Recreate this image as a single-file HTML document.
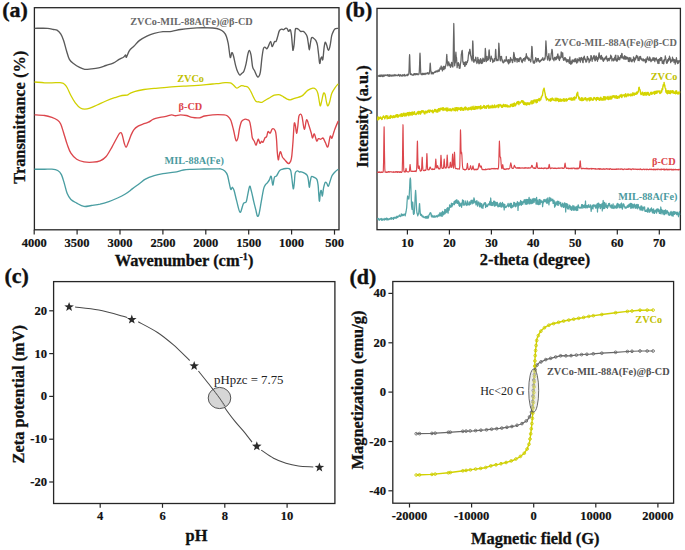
<!DOCTYPE html>
<html><head><meta charset="utf-8"><style>
html,body{margin:0;padding:0;background:#fff;}
svg{display:block;}
text{font-family:"Liberation Serif",serif;}
</style></head><body>
<svg width="685" height="550" viewBox="0 0 685 550">
<rect width="685" height="550" fill="#fff"/>

<g fill="none" stroke="#262626" stroke-width="1.3">
<rect x="34.4" y="7.7" width="304.6" height="222.1"/>
<rect x="377" y="8.4" width="303.4" height="221.3"/>
<rect x="53.6" y="281.6" width="281.3" height="221.9"/>
<rect x="392.8" y="281.5" width="280.8" height="221.7"/>
</g>
<g stroke="#262626" stroke-width="1.2">
<line x1="34.2" y1="229.8" x2="34.2" y2="234.6"/>
<line x1="77.1" y1="229.8" x2="77.1" y2="234.6"/>
<line x1="120.0" y1="229.8" x2="120.0" y2="234.6"/>
<line x1="162.9" y1="229.8" x2="162.9" y2="234.6"/>
<line x1="205.8" y1="229.8" x2="205.8" y2="234.6"/>
<line x1="248.7" y1="229.8" x2="248.7" y2="234.6"/>
<line x1="291.6" y1="229.8" x2="291.6" y2="234.6"/>
<line x1="334.5" y1="229.8" x2="334.5" y2="234.6"/>
<line x1="407.4" y1="229.7" x2="407.4" y2="234.5"/>
<line x1="449.4" y1="229.7" x2="449.4" y2="234.5"/>
<line x1="491.4" y1="229.7" x2="491.4" y2="234.5"/>
<line x1="533.3" y1="229.7" x2="533.3" y2="234.5"/>
<line x1="575.3" y1="229.7" x2="575.3" y2="234.5"/>
<line x1="617.3" y1="229.7" x2="617.3" y2="234.5"/>
<line x1="659.3" y1="229.7" x2="659.3" y2="234.5"/>
<line x1="100.2" y1="503.5" x2="100.2" y2="507.8"/>
<line x1="162.5" y1="503.5" x2="162.5" y2="507.8"/>
<line x1="224.8" y1="503.5" x2="224.8" y2="507.8"/>
<line x1="287.1" y1="503.5" x2="287.1" y2="507.8"/>
<line x1="49.2" y1="310.8" x2="53.6" y2="310.8"/>
<line x1="49.2" y1="353.6" x2="53.6" y2="353.6"/>
<line x1="49.2" y1="396.4" x2="53.6" y2="396.4"/>
<line x1="49.2" y1="439.2" x2="53.6" y2="439.2"/>
<line x1="49.2" y1="482.0" x2="53.6" y2="482.0"/>
<line x1="409.5" y1="503.2" x2="409.5" y2="507.5"/>
<line x1="471.6" y1="503.2" x2="471.6" y2="507.5"/>
<line x1="533.7" y1="503.2" x2="533.7" y2="507.5"/>
<line x1="595.8" y1="503.2" x2="595.8" y2="507.5"/>
<line x1="657.9" y1="503.2" x2="657.9" y2="507.5"/>
<line x1="388.4" y1="293.4" x2="392.8" y2="293.4"/>
<line x1="388.4" y1="342.8" x2="392.8" y2="342.8"/>
<line x1="388.4" y1="392.1" x2="392.8" y2="392.1"/>
<line x1="388.4" y1="441.5" x2="392.8" y2="441.5"/>
<line x1="388.4" y1="490.8" x2="392.8" y2="490.8"/>
</g>
<g font-size="12.5" font-weight="bold" fill="#111" stroke="#111" stroke-width="0.2" text-anchor="middle">
<text x="34.2" y="247">4000</text>
<text x="77.1" y="247">3500</text>
<text x="120.0" y="247">3000</text>
<text x="162.9" y="247">2500</text>
<text x="205.8" y="247">2000</text>
<text x="248.7" y="247">1500</text>
<text x="291.6" y="247">1000</text>
<text x="334.5" y="247">500</text>
<text x="407.4" y="247">10</text>
<text x="449.4" y="247">20</text>
<text x="491.4" y="247">30</text>
<text x="533.3" y="247">40</text>
<text x="575.3" y="247">50</text>
<text x="617.3" y="247">60</text>
<text x="659.3" y="247">70</text>
</g>
<g font-size="12.5" font-weight="bold" fill="#111" stroke="#111" stroke-width="0.2" text-anchor="middle">
<text x="100.2" y="520">4</text>
<text x="162.5" y="520">6</text>
<text x="224.8" y="520">8</text>
<text x="287.1" y="520">10</text>
<text x="409.5" y="519.5">-20000</text>
<text x="471.6" y="519.5">-10000</text>
<text x="533.7" y="519.5">0</text>
<text x="595.8" y="519.5">10000</text>
<text x="657.9" y="519.5">20000</text>
</g>
<g font-size="12.6" font-weight="bold" fill="#111" stroke="#111" stroke-width="0.2" text-anchor="end">
<text x="47" y="314.8">20</text>
<text x="47" y="357.6">10</text>
<text x="47" y="400.4">0</text>
<text x="47" y="443.2">-10</text>
<text x="47" y="486.0">-20</text>
<text x="386" y="297.4">40</text>
<text x="386" y="346.8">20</text>
<text x="386" y="396.1">0</text>
<text x="386" y="445.5">-20</text>
<text x="386" y="494.8">-40</text>
</g>
<g font-size="16.4" font-weight="bold" fill="#111" stroke="#111" stroke-width="0.3" text-anchor="middle">
<text x="184" y="265.5">Wavenumber (cm<tspan font-size="10" dy="-6">-1</tspan><tspan dy="6">)</tspan></text>
<text x="535" y="264.7">2-theta (degree)</text>
<text x="196.5" y="541">pH</text>
<text x="535.3" y="543.5">Magnetic field (G)</text>
<text transform="translate(24.5,117.3) rotate(-90)">Transmittance (%)</text>
<text transform="translate(367.8,116.6) rotate(-90)">Intensity (a.u.)</text>
<text transform="translate(24.1,394.2) rotate(-90)">Zeta potential (mV)</text>
<text transform="translate(363.1,390) rotate(-90)">Magnetization (emu/g)</text>
</g>
<g font-size="22" font-weight="bold" fill="#111" stroke="#111" stroke-width="0.35">
<text x="2.3" y="17.3">(a)</text>
<text x="345.5" y="17">(b)</text>
<text x="4.5" y="283.1">(c)</text>
<text x="349.5" y="284.1">(d)</text>
</g>
<g fill="none" stroke-width="1.35" stroke-linejoin="round">
<path d="M34.5,28.3 C36.7,28.3 44.4,28.1 47.5,28.3 C50.6,28.5 51.8,29.2 53.4,29.5 C55,29.8 55.8,29.5 57,30.2 C58.2,30.9 59.6,32.2 60.7,33.9 C61.8,35.6 62.6,37.6 63.6,40.4 C64.6,43.2 65.5,47.5 66.5,50.7 C67.5,53.9 68.2,57.2 69.4,59.4 C70.6,61.6 72.1,62.5 73.8,63.8 C75.5,65.1 77.8,66.5 79.6,67.4 C81.4,68.3 82.8,69 84.7,69.3 C86.7,69.5 89,69.1 91.3,68.9 C93.6,68.7 96.2,68.5 98.6,67.9 C101,67.3 103.5,66.3 105.9,65.5 C108.3,64.7 111,64.1 113.2,63.1 C115.4,62.1 117.4,60.4 119.1,59.4 C120.8,58.4 122.3,57.9 123.4,57.2 C124.5,56.5 125.1,55 125.6,55 C126.1,55 125.8,57.9 126.4,57.2 C127,56.5 128.2,52.5 129.4,50.7 C130.6,48.9 132.1,48 133.8,46.3 C135.5,44.6 137.4,42.1 139.6,40.4 C141.8,38.7 144.5,37.3 146.9,36.1 C149.3,34.9 151.5,34.1 154.2,33.4 C156.9,32.7 160.1,32 163,31.7 C165.9,31.4 168.8,31.8 171.7,31.4 C174.6,31 177.3,30 180.5,29.5 C183.7,29 187,28.6 190.7,28.3 C194.3,28 198.8,27.7 202.4,27.6 C206.1,27.6 209.8,27.7 212.6,28 C215.4,28.3 217.6,28.6 219.4,29.3 C221.2,30 222.5,30.8 223.7,32 C224.9,33.2 225.7,34.6 226.4,36.4 C227.1,38.2 227.6,40.5 228.1,42.9 C228.6,45.2 228.8,48 229.2,50.5 C229.6,53 229.9,57.2 230.3,57.6 C230.8,58 231.4,53 231.9,52.7 C232.4,52.4 232.9,53.8 233.5,56 C234.1,58.2 235,63.1 235.7,65.8 C236.4,68.5 237.2,70.8 237.9,72.3 C238.6,73.8 239.3,74.9 239.9,75.1 C240.5,75.3 241,74.1 241.7,73.4 C242.4,72.8 243.2,72.8 243.9,71.2 C244.6,69.6 245.5,66.3 246.1,63.6 C246.7,60.9 247.2,57.1 247.7,54.9 C248.2,52.7 248.8,50.5 249.3,50.5 C249.9,50.5 250.4,52.2 251,54.9 C251.6,57.6 252,64.2 252.6,66.9 C253.2,69.6 254.1,69.7 254.8,71.2 C255.5,72.8 256.4,75.3 257,76.2 C257.6,77.1 258.1,77.4 258.6,76.7 C259.2,76 259.8,75.4 260.3,72.3 C260.9,69.2 261.4,62.2 261.9,58.2 C262.4,54.2 262.9,50.2 263.5,48.4 C264.1,46.6 264.6,47.2 265.2,47.3 C265.8,47.4 266.3,49.1 266.8,48.9 C267.3,48.7 267.8,47.5 268.4,46.2 C269,44.9 270,41.2 270.6,41.3 C271.2,41.4 271.6,46.6 272.2,46.7 C272.8,46.8 273.8,42.7 274.4,41.8 C275,40.9 275.6,42.2 276.1,41.3 C276.7,40.4 277.2,38.1 277.7,36.4 C278.2,34.7 278.7,32.1 279.3,30.9 C279.9,29.7 280.8,29.4 281.5,29.2 C282.2,29 283,29.9 283.7,29.7 C284.4,29.5 285.3,28.2 285.9,28.1 C286.5,28 287.1,28.6 287.5,29.2 C287.9,29.8 288.1,31.3 288.6,31.4 C289.1,31.5 289.8,29.2 290.3,29.7 C290.8,30.2 291,32 291.4,34.6 C291.8,37.2 292.1,42.9 292.4,45.5 C292.7,48.1 292.7,50.6 293,50.4 C293.3,50.2 293.7,47.8 294.1,44.4 C294.5,41 294.8,32.9 295.2,30.3 C295.6,27.7 295.8,28.8 296.3,28.6 C296.8,28.4 297.7,28.7 298.4,29.2 C299.1,29.7 299.8,31 300.6,31.4 C301.4,31.8 302.6,31 303.4,31.4 C304.2,31.8 304.9,32.6 305.5,33.5 C306.1,34.4 306.7,35.1 307.2,36.8 C307.7,38.4 307.9,41.2 308.3,43.4 C308.7,45.6 309,49.9 309.3,49.9 C309.6,49.9 310,45.4 310.4,43.4 C310.8,41.4 311,38.8 311.5,37.9 C312,37 312.5,37.4 313.2,37.9 C313.9,38.4 315.2,39.3 315.9,40.6 C316.6,41.9 317.1,43.2 317.5,45.5 C317.9,47.8 318.2,51.3 318.6,54.3 C319,57.3 319.3,62.8 319.7,63.5 C320.1,64.2 320.4,59.7 320.8,58.6 C321.2,57.5 321.6,56.8 321.9,57 C322.2,57.2 322.4,61.2 322.8,59.7 C323.2,58.2 323.7,50.6 324.1,47.7 C324.5,44.8 324.8,42.7 325.2,42.3 C325.6,41.9 326.3,44.1 326.8,45.5 C327.3,46.9 327.8,50.4 328.4,50.4 C328.9,50.4 329.6,48 330.1,45.5 C330.7,43 331.1,38.2 331.7,35.7 C332.3,33.2 333.3,31.5 333.9,30.3 C334.5,29.1 334.8,28.9 335.5,28.6 C336.2,28.3 337.8,28.4 338.3,28.3" stroke="#5a5a5a"/>
<path d="M34.5,82 C36.2,82.1 41.7,82.7 44.6,82.8 C47.5,82.9 49.3,82.8 51.9,82.8 C54.5,82.8 58.2,82.5 60,82.6 C61.8,82.7 62,82.9 62.8,83.2 C63.6,83.5 64.1,83.8 64.8,84.6 C65.5,85.3 66.2,85.9 67.2,87.7 C68.2,89.5 69.6,93 70.9,95.5 C72.2,98 73.7,100.7 75.3,102.8 C76.9,104.9 78.8,107 80.4,108 C82,109 83.1,109.1 84.7,109.1 C86.3,109.1 87.8,108.9 89.9,108.2 C92,107.5 94.5,106.2 97.2,105 C99.9,103.8 103,102.2 105.9,101 C108.8,99.8 112,98.6 114.7,97.7 C117.4,96.8 119.9,95.9 122,95.5 C124.1,95.1 125.8,95.4 127.1,95.1 C128.4,94.8 128.7,94 130,93.4 C131.3,92.8 132.9,92 135.2,91.3 C137.5,90.6 140.8,90 144,89.5 C147.2,89 150.1,88.8 154.2,88.4 C158.3,88 163.9,87.6 168.8,87.2 C173.7,86.8 178.5,86.5 183.4,86.2 C188.3,85.9 193.1,85.8 198,85.4 C202.9,85 208.9,84.3 212.6,84 C216.3,83.7 218,83.6 220.1,83.4 C222.2,83.2 223.5,82.7 225.2,82.6 C226.9,82.5 228.9,82.5 230.3,82.9 C231.7,83.3 232.4,84.1 233.4,84.9 C234.4,85.8 235.6,87.7 236.5,88 C237.4,88.3 238.2,87.4 239,87 C239.8,86.6 240.7,85.7 241.6,85.6 C242.5,85.5 243.6,86.1 244.6,86.3 C245.6,86.5 246.8,86.3 247.7,87 C248.6,87.7 249.5,89 250.3,90.5 C251.2,92 251.9,93.9 252.8,95.7 C253.7,97.5 254.9,100.3 255.9,101.3 C256.9,102.3 257.9,101.6 258.9,101.8 C259.9,102 260.8,102.6 262,102.3 C263.2,102 264.7,100.5 266.1,99.7 C267.5,98.9 268.8,98.3 270.2,97.5 C271.6,96.7 272.9,95.6 274.3,95.1 C275.7,94.6 277.4,94.6 278.4,94.6 C279.4,94.6 279.6,94.8 280.4,95.1 C281.2,95.4 282,95.9 283.2,96.6 C284.4,97.3 286.1,98.5 287.3,99.1 C288.5,99.6 289,100.1 290.3,99.9 C291.6,99.7 293.5,98.7 295.4,98.1 C297.3,97.5 300.1,96.9 301.6,96.1 C303.1,95.3 303.6,94.5 304.6,93.5 C305.6,92.5 306.3,91.3 307.7,90.4 C309.1,89.5 311.4,88.4 312.8,88.2 C314.2,88 315,88.5 315.9,89.4 C316.8,90.3 317.3,91.3 317.9,93.5 C318.5,95.7 319.1,100.7 319.5,102.7 C319.9,104.8 320.1,106.3 320.5,105.8 C320.9,105.3 321.5,101.7 322,99.6 C322.5,97.5 323,94.1 323.5,93.3 C324,92.5 324.6,92.9 325.1,94.5 C325.6,96.1 326.1,100.8 326.6,102.7 C327.1,104.6 327.4,106 327.9,105.8 C328.4,105.6 329.1,103.8 329.7,101.7 C330.3,99.7 330.8,95.9 331.7,93.5 C332.6,91.1 334.2,89 335.3,87.4 C336.4,85.8 337.8,84.4 338.3,83.8" stroke="#d0d000" stroke-width="1.3"/>
<path d="M34.5,114.8 C36.2,114.9 41.7,115.1 44.6,115.5 C47.5,115.9 49.7,116.6 51.9,117.4 C54.1,118.2 56.2,119.2 57.7,120.3 C59.2,121.4 59.7,121.9 60.7,124 C61.7,126.1 62.5,129.3 63.6,132.7 C64.7,136.1 66,141 67.2,144.4 C68.4,147.8 69.3,150.7 70.9,153.2 C72.5,155.7 74.5,157.9 76.7,159.3 C78.9,160.8 81.3,161.4 84,161.9 C86.7,162.4 90.1,162.4 92.8,162.2 C95.5,162 97.9,161.7 100.1,160.8 C102.3,159.9 104,159.1 105.9,156.8 C107.9,154.6 110,150.5 111.8,147.3 C113.6,144.1 115.6,140.2 116.9,137.8 C118.2,135.4 119,133.6 119.8,133 C120.6,132.4 121.3,132.5 122,134.2 C122.7,135.9 123.5,140.8 124.2,143 C124.9,145.2 125.4,147.3 126.1,147.3 C126.8,147.3 127.3,144.9 128.1,143 C128.9,141.1 129.9,137.9 130.8,135.7 C131.8,133.5 132.6,131.4 133.8,129.8 C135,128.2 136.4,127.2 138.1,126.2 C139.8,125.2 142.3,124.4 144,123.7 C145.7,123 146.8,123 148.4,122.2 C150,121.5 151.6,120 153.5,119.2 C155.4,118.4 157.9,117.9 160,117.4 C162.1,116.9 164,116.8 165.9,116.4 C167.8,116 170.1,115 171.7,114.9 C173.3,114.8 173.9,115.7 175.4,115.7 C176.9,115.7 178.7,114.8 180.5,114.8 C182.3,114.8 184.4,115.1 186.3,115.5 C188.2,115.9 190,117 192.2,117.4 C194.4,117.8 197.4,118 199.5,117.8 C201.6,117.6 202.4,116.5 204.6,116 C206.8,115.5 209.3,115 212.6,114.8 C215.9,114.6 221.7,114.7 224.2,114.9 C226.7,115.1 226.7,115.3 227.8,116.2 C228.9,117.1 229.9,118.1 230.8,120.3 C231.7,122.5 232.6,126.4 233.4,129.5 C234.2,132.6 234.9,136.8 235.4,138.7 C235.9,140.6 236.3,141 236.7,140.8 C237.1,140.6 237.5,139.8 238,137.7 C238.5,135.6 238.9,131.2 239.5,128.5 C240.1,125.8 240.8,122.9 241.6,121.4 C242.4,119.9 243.6,119.6 244.6,119.3 C245.6,119 246.8,119.4 247.7,119.8 C248.5,120.2 249.1,120.1 249.7,121.9 C250.3,123.7 250.9,127.9 251.3,130.5 C251.7,133.1 251.8,135.9 252.3,137.7 C252.8,139.5 253.7,140.1 254.3,141.3 C254.9,142.5 255.4,144.9 255.9,145.1 C256.4,145.3 256.7,143.3 257.1,142.3 C257.5,141.3 257.9,139 258.4,139.2 C258.9,139.4 259.5,143 260,143.3 C260.5,143.7 261,141.5 261.5,141.3 C262,141.1 262.4,142.9 263,142.3 C263.6,141.7 264.5,138.6 265.1,137.7 C265.7,136.8 266.1,137.7 266.6,136.7 C267.1,135.7 267.5,132.2 268.1,131.6 C268.7,131 269.5,133.6 270.2,133.1 C270.9,132.6 271.5,129.2 272.4,128.8 C273.2,128.5 274.6,129.2 275.3,131 C276,132.8 276.2,135.8 276.5,139.3 C276.8,142.8 277,148.8 277.3,152.2 C277.6,155.6 278,159.5 278.3,159.9 C278.6,160.3 279,156 279.4,154.6 C279.8,153.2 280.1,151.3 280.6,151.7 C281.1,152.1 281.7,155.6 282.4,157 C283.1,158.4 283.8,158.8 284.8,159.9 C285.8,161 287.3,163.3 288.3,163.5 C289.3,163.7 290.1,162.4 290.7,161.1 C291.3,159.8 291.4,159.1 291.8,155.8 C292.2,152.6 292.6,146.9 293,141.6 C293.4,136.3 293.8,126.6 294.2,123.9 C294.6,121.2 295,124.1 295.4,125.7 C295.8,127.3 296.2,133.2 296.6,133.3 C297,133.4 297.4,129.2 297.8,126.3 C298.2,123.4 298.4,118.2 298.9,116.2 C299.4,114.2 300.2,114.1 300.7,114.2 C301.2,114.3 301.5,114.3 302.1,116.8 C302.7,119.3 303.6,128.7 304.3,129.2 C305.1,129.7 305.8,120.4 306.6,119.8 C307.4,119.2 308.2,123.5 309,125.7 C309.8,128 310.7,131.2 311.3,133.3 C311.9,135.4 312,138 312.5,138.1 C313,138.2 313.6,133.4 314.3,133.9 C315,134.4 316,140.2 316.7,141 C317.4,141.8 317.7,139 318.4,138.7 C319.1,138.4 320,139.4 320.8,139.3 C321.6,139.2 322.3,137.5 323.1,138.1 C323.9,138.7 324.7,141.3 325.5,142.8 C326.3,144.3 327.1,148 327.9,146.9 C328.7,145.8 329.5,137.8 330.2,136.3 C330.9,134.8 331.3,139.1 332,138.1 C332.7,137.1 333.3,133.3 334.4,130.4 C335.4,127.5 337.6,122.5 338.3,120.9" stroke="#dc464c"/>
<path d="M34.5,169.2 C36.2,169.2 41.7,169.2 44.6,169.2 C47.5,169.2 49.7,169 51.9,169.2 C54.1,169.4 56.1,169.6 57.7,170.5 C59.3,171.4 60.3,172.4 61.4,174.6 C62.5,176.8 63.3,180.2 64.3,183.4 C65.3,186.6 66.1,190.9 67.2,193.6 C68.3,196.3 69.3,197.8 70.9,199.4 C72.5,201 74.5,201.9 76.7,203.1 C78.9,204.3 81.6,206 84,206.4 C86.4,206.8 88.6,205.9 91.3,205.5 C94,205.1 97.2,204.8 100.1,204.2 C103,203.5 105.9,202.6 108.8,201.6 C111.7,200.6 114.9,199.2 117.6,198 C120.3,196.8 122.5,195.8 124.9,194.3 C127.4,192.8 129.9,190.7 132.3,188.9 C134.8,187.1 137.4,185.1 139.6,183.5 C141.8,181.9 143,180.4 145.4,179.1 C147.8,177.8 151.3,176.6 154.2,175.7 C157.1,174.8 159.6,174.3 163,173.7 C166.4,173.1 171.2,172.8 174.6,172.2 C178,171.6 180.5,170.5 183.4,170 C186.3,169.5 188.8,169.5 192.2,169.3 C195.6,169.1 199.7,169.1 203.8,169 C207.9,168.9 214.2,168.9 217,168.9 C219.8,168.9 219.2,168.6 220.5,168.9 C221.8,169.2 223.6,169.8 224.8,170.9 C226,172 226.8,173.3 227.5,175.3 C228.2,177.3 228.6,180.6 229.2,182.9 C229.8,185.2 230.3,188.7 230.8,189.4 C231.3,190.1 231.9,187.1 232.4,187.3 C232.9,187.5 233.4,188.2 234.1,190.5 C234.8,192.8 235.8,197.8 236.8,201.4 C237.8,205 239,211.9 240.1,212.3 C241.2,212.7 242.4,205.3 243.4,203.6 C244.4,201.9 245.4,203.4 246.1,202 C246.8,200.6 247.1,197.5 247.7,194.9 C248.3,192.3 249.1,186.8 249.7,186.2 C250.3,185.6 250.8,189.1 251.5,191.6 C252.2,194.1 253,198.3 253.7,201.4 C254.4,204.5 255.3,207.7 255.9,210.2 C256.5,212.7 256.9,215.7 257.5,216.2 C258.1,216.7 258.6,215.9 259.2,213.4 C259.8,210.9 260.6,205.4 261.3,201.4 C262,197.4 262.9,192.1 263.5,189.4 C264.1,186.7 264.6,186.2 265.2,185.1 C265.8,184 266.6,183.8 267.3,182.9 C268,182 268.9,180.7 269.5,179.6 C270.1,178.5 270.6,175.5 271.2,176.4 C271.8,177.3 272.3,184.9 272.8,185.1 C273.3,185.3 273.8,178.9 274.4,177.4 C275,175.9 275.8,176.9 276.6,175.8 C277.4,174.7 278.5,172 279.4,170.9 C280.3,169.8 281,169.7 282.1,169.3 C283.2,168.9 284.7,168.6 285.9,168.5 C287.1,168.4 288.4,168.3 289.2,168.7 C290,169.1 290.4,169.3 290.8,170.9 C291.2,172.5 291.5,175.5 291.9,178.5 C292.3,181.5 292.9,188.3 293.3,188.9 C293.7,189.5 294.1,184.4 294.4,181.8 C294.7,179.2 294.7,174.9 295.2,173.1 C295.7,171.3 296.7,171.1 297.4,170.9 C298.1,170.7 298.9,171.8 299.5,172 C300.1,172.2 300.4,171.6 301.2,171.8 C302,172 303.4,172.5 304.4,173.1 C305.4,173.7 306.5,174.2 307.2,175.3 C307.9,176.4 307.9,177.6 308.3,179.6 C308.7,181.6 309,187.1 309.3,187.3 C309.6,187.5 310,182.5 310.4,180.7 C310.8,178.9 310.9,176.9 311.5,176.4 C312.1,175.9 313.4,176.9 314.3,177.4 C315.2,177.9 316.4,178.3 317,179.6 C317.6,180.9 317.8,182.5 318.1,185.1 C318.4,187.7 318.6,192.2 318.8,194.9 C319,197.6 319.2,201.6 319.5,201.2 C319.8,200.8 320,194.5 320.3,192.7 C320.6,190.9 321,189.9 321.3,190.5 C321.6,191.1 322,196.3 322.4,196 C322.8,195.7 323,190.7 323.5,188.4 C324,186.1 324.6,183.2 325.2,182.4 C325.8,181.6 326.3,182.8 326.8,183.4 C327.3,184 327.8,186.5 328.4,186.2 C328.9,185.8 329.5,183.1 330.1,181.3 C330.7,179.5 331.3,177 332.2,175.3 C333.1,173.7 334.5,172.4 335.5,171.4 C336.5,170.4 337.8,169.7 338.3,169.3" stroke="#4a9ea2"/>
</g>
<g font-size="10.25" font-weight="bold">
<text x="130.2" y="24.7" fill="#686868">ZVCo-MIL-88A(Fe)@β-CD</text>
<text x="177.2" y="81.8" fill="#c0c000">ZVCo</text>
<text x="178.6" y="110.3" fill="#dc464c">β-CD</text>
<text x="164.6" y="164.3" fill="#4a9a9e">MIL-88A(Fe)</text>
</g>
<g fill="none" stroke-width="1.0" stroke-linejoin="round">
<polyline points="377.3,75.3 377.6,76.6 377.9,76.4 378.2,75.5 378.5,75.9 378.8,75.8 379.1,76.2 379.4,76.4 379.7,75.2 380,75 380.3,76.5 380.6,75.7 380.9,76.3 381.2,74.9 381.5,75.7 381.8,76.2 382.1,75.3 382.4,76.6 382.7,76.5 383,74.9 383.3,74.9 383.6,75.8 383.9,76.5 384.2,75.4 384.5,75.1 384.8,75.5 385.1,74.8 385.4,75.1 385.7,75.5 386,75.6 386.3,75.1 386.6,75.1 386.9,75 387.2,75.4 387.5,75.1 387.8,74.6 388.1,76.1 388.4,75.6 388.7,75.7 389,74.9 389.3,76.3 389.6,76 389.9,74.7 390.2,75.1 390.5,75.8 390.8,75.8 391.1,76.2 391.4,75.2 391.7,76 392,75.7 392.3,75 392.6,75.5 392.9,76 393.2,76 393.5,75.4 393.8,75.5 394.1,74.5 394.4,74.9 394.7,75.9 395,75.2 395.3,74.7 395.6,75.4 395.9,75.7 396.2,75.6 396.5,75.1 396.8,75.2 397.1,75.3 397.4,75.8 397.7,75.3 398,75.1 398.3,75.3 398.6,74.4 398.9,74.5 399.2,75.6 399.5,76.1 399.8,75.4 400.1,75.1 400.4,74.7 400.7,75.3 401,76.1 401.3,75.7 401.6,75.3 401.9,75.9 402.2,74.7 402.5,75.2 402.8,76 403.1,75.4 403.4,75.1 403.7,74.8 404,75.3 404.3,76 404.6,74.3 404.9,75.7 405.2,75.7 405.5,75.8 405.8,75.5 406.1,75.6 406.4,75.1 406.7,75.1 407,74.8 407.3,74.2 407.6,75.6 407.9,75 408.2,74.3 408.5,74.8 408.8,74 409.1,68.7 409.4,58 409.6,54.7 409.7,55.7 410,65.9 410.3,73.1 410.6,74.5 410.9,73.8 411.2,74.2 411.5,74 411.8,74.7 412.1,75.2 412.4,75.1 412.7,75.1 413,75.1 413.3,74.1 413.6,75.1 413.9,74.8 414.2,73.7 414.5,73.6 414.8,73.6 415.1,74.9 415.4,74 415.7,73.7 416,74.7 416.3,74.1 416.6,73.6 416.9,73.8 417.2,74.5 417.5,73.8 417.8,74 418.1,74.8 418.4,74.3 418.7,74 419,74.2 419.3,71.6 419.6,64.6 419.9,54.1 420,53.2 420.2,56.4 420.5,67.5 420.8,74.1 421.1,74.3 421.4,73.8 421.7,74.5 422,74.8 422.3,73.3 422.6,73.3 422.9,73.5 423.2,74.5 423.5,73.4 423.8,74.3 424.1,74.2 424.4,74 424.7,73.3 425,74.6 425.3,74.3 425.6,73.7 425.9,73.1 426.2,73.9 426.5,73.4 426.8,73.7 427.1,73.2 427.4,73.7 427.7,72.7 428,73.1 428.3,74.2 428.6,74 428.9,73 429.2,73.9 429.5,72 429.8,69.5 430.1,64.1 430.2,63.2 430.4,64.8 430.7,69.8 431,71.8 431.3,73.8 431.6,72.2 431.9,73.6 432.2,73.8 432.5,73.1 432.8,72.4 433.1,73.6 433.4,73.8 433.7,73.1 434,72.7 434.3,72.3 434.6,72.1 434.9,71.7 435.2,72.4 435.5,71.9 435.8,71.3 436.1,71 436.4,71.9 436.7,71.1 437,71.3 437.3,70.9 437.6,71.8 437.9,71.7 438.2,70 438.5,70.1 438.8,70.2 439.1,71.3 439.4,70.7 439.7,69.6 440,68 440.3,69.2 440.6,69 440.9,68.8 441,66.7 441.2,66 441.5,69.1 441.8,68.9 442.1,68.4 442.4,70.9 442.7,67.4 443,69.5 443.3,66.3 443.6,66.5 443.9,69.7 444.2,66.3 444.5,68.6 444.8,67.7 445.1,68.6 445.4,66.3 445.7,65.9 446,64.3 446.3,63.1 446.6,56.4 446.8,54.4 446.9,56.9 447.2,61 447.5,62.2 447.8,65.8 448.1,63.6 448.4,62.6 448.7,61.8 449,64.9 449.2,63.2 449.3,64.6 449.6,65.5 449.9,64.3 450.2,66.3 450.5,67.3 450.8,65.2 451.1,65.5 451.4,63.3 451.7,62.3 451.7,64.2 452,63.2 452.3,66.6 452.6,65.7 452.9,67 453.2,58.7 453.5,38.8 453.8,23.5 454.1,37.5 454.4,59.6 454.7,65.8 455,62 455.3,62.9 455.6,55.9 455.9,52.2 456,53.7 456.2,56.8 456.5,57.6 456.8,62.4 457.1,67.6 457.4,65.4 457.7,63.9 458,63.3 458.3,62.6 458.4,63.7 458.6,65.4 458.9,63.8 459.2,68.2 459.5,65.9 459.8,68.4 460.1,67.8 460.4,64.2 460.7,62.4 461,60.5 461.3,54.7 461.6,53.5 461.9,51.2 462.2,50.4 462.5,53.8 462.8,62 463.1,61.5 463.4,64.3 463.7,64.2 464,63.6 464.3,62.4 464.6,66.2 464.9,66.3 465.2,66.1 465.5,61.8 465.8,61.9 466.1,63.3 466.4,64.6 466.7,62.2 466.9,61.9 467,62.7 467.3,62.6 467.6,60.5 467.9,60.8 468.2,57.5 468.5,54.5 468.6,55 468.8,52.2 469.1,52.1 469.4,53.7 469.7,49.5 469.9,49.3 470,50.1 470.3,51.6 470.6,55.7 470.9,56 471.2,57.9 471.5,59.4 471.8,59.9 472.1,61 472.4,53.9 472.7,41.1 472.8,41 473,44 473.3,55.9 473.6,61.3 473.9,62.3 474.2,60.8 474.5,59.8 474.8,60.8 475.1,59.5 475.4,60.4 475.7,57.1 475.8,59.1 476,57.9 476.3,61.9 476.6,61.1 476.9,63.5 477.2,61.6 477.5,61.8 477.8,59 477.8,57.4 478.1,60 478.4,62.8 478.7,59.8 479,63.8 479.3,60.2 479.6,62.8 479.9,63.1 480.2,61.1 480.4,59.3 480.5,58.7 480.8,59 481.1,61.6 481.4,63.5 481.7,60.6 482,63.3 482.3,59.6 482.6,62.8 482.9,58.1 483.2,58.8 483.5,61 483.8,59.1 483.8,60.5 484.1,61.2 484.4,61.4 484.7,60.7 485,56.5 485.3,48.4 485.4,49.3 485.6,51.3 485.9,56.5 486.2,61.7 486.5,61.2 486.8,58.2 487.1,56.4 487.3,58.1 487.4,60.3 487.7,60.2 488,59.9 488.3,59.9 488.6,58.5 488.9,51.4 489.1,50 489.2,49.9 489.5,54.5 489.8,58.3 490.1,58.5 490.4,61.3 490.7,59.5 491,59.1 491.3,56.1 491.3,58.1 491.6,58 491.9,58.2 492.2,58.9 492.5,59.8 492.8,62.5 493.1,60.5 493.4,60.5 493.7,61.5 494,59.8 494.3,58.7 494.6,61.1 494.9,60.5 495.2,58.3 495.5,51.1 495.7,49.3 495.8,50.7 496.1,56.7 496.4,58.6 496.7,60.7 497,60.7 497.3,59.5 497.6,60.3 497.9,60.7 498.2,60.1 498.5,53.6 498.8,43.2 498.9,43.5 499.1,46.7 499.4,52.1 499.7,57 500,59.7 500.3,60.9 500.6,56.7 500.9,58.6 501.2,58.8 501.3,57 501.5,56.4 501.8,59.1 502.1,61 502.4,59.8 502.7,62 503,62.6 503.3,62 503.6,62.8 503.9,62.2 504.2,62.1 504.2,60 504.5,60.8 504.8,59.9 505.1,60.9 505.4,60.6 505.7,61.3 506,60.9 506.3,56.5 506.4,58.4 506.6,59.4 506.9,60.6 507.2,60.1 507.5,61.6 507.8,60.3 508.1,62.9 508.4,59.7 508.7,63.9 509,63 509.3,61.9 509.6,59.9 509.9,62.3 510.2,61.9 510.5,57.5 510.8,60 511,58.6 511.1,60.2 511.4,59.6 511.7,60.3 512,59.6 512.3,62.2 512.6,62.7 512.9,59.8 513.2,60.4 513.5,56 513.8,52.4 513.9,53.7 514.1,53.6 514.4,55.4 514.7,61.1 515,61.7 515.3,57.5 515.5,59.1 515.6,59.6 515.9,59.3 516.2,58.6 516.5,59.8 516.8,59.7 517.1,62.1 517.4,58.7 517.7,59.6 518,60.7 518.3,58.8 518.6,61.4 518.9,61 519.2,61.6 519.5,58.1 519.8,58 520.1,58.8 520.3,58.5 520.4,57.5 520.7,59.2 521,58.1 521.3,60.6 521.6,61.5 521.9,61.8 522.2,62.6 522.5,60.3 522.8,59.6 523.1,60.7 523.4,60 523.4,58.7 523.7,59.1 524,58.6 524.3,58.5 524.6,58 524.9,61.2 525.2,57.7 525.5,59.4 525.8,56.4 526.1,56.3 526.3,53.7 526.4,55 526.7,57.7 527,56 527.3,58.6 527.6,58.5 527.8,58 527.9,57.3 528.2,59.3 528.5,59.5 528.8,60.5 529.1,58.1 529.4,60.2 529.7,60.2 530,59.6 530.3,60.1 530.6,61.9 530.9,61.2 531.2,58.6 531.5,53.8 531.8,46.4 531.9,46.4 532.1,47.2 532.4,53.3 532.7,58.8 533,61.3 533.3,62.8 533.6,62.6 533.9,61.2 534.2,63.4 534.5,61.1 534.8,62.7 535.1,59.9 535.4,59.7 535.7,57.7 535.7,59.9 536,58.2 536.3,59.2 536.6,61.8 536.9,61.4 537.2,60.5 537.5,58.7 537.8,60.2 538.1,59.4 538.4,58.5 538.4,59 538.7,61.2 539,60.7 539.3,61.6 539.6,62.2 539.9,61.5 540.2,60.2 540.5,61.3 540.8,60.7 541.1,60.6 541.4,60.4 541.7,59.1 542,59.6 542.3,58.9 542.6,59.8 542.8,57.6 542.9,58.9 543.2,59.5 543.5,59.7 543.8,60.4 544.1,59.7 544.4,58.6 544.7,58 545,59.1 545.3,56.5 545.6,48.4 545.9,40.9 546,42 546.2,45.3 546.5,50.4 546.8,56 547.1,56.3 547.4,59 547.7,60.1 548,58.1 548.3,56.4 548.6,56.2 548.7,55.3 548.9,53.6 549.2,57.6 549.5,60.7 549.8,59.8 550.1,58.6 550.4,59.8 550.7,59.1 551,55.9 551.3,53.1 551.6,52.7 551.9,49.3 552.2,50 552.5,52.7 552.8,59.2 553.1,59.2 553.4,59 553.7,59.8 554,60.8 554.3,57.7 554.6,58.9 554.9,58.3 555,57.2 555.2,59 555.5,57.6 555.8,59.9 556.1,58.2 556.4,59.3 556.7,56.7 557,58.5 557.3,57.7 557.6,54.4 557.8,55 557.9,53.8 558.2,57.7 558.5,57.4 558.8,59.1 559.1,56.1 559.4,60.5 559.7,59.4 560,57.8 560.3,57.8 560.6,58 560.9,56.2 561.2,51.9 561.4,53 561.5,53.7 561.8,52.8 562.1,57.3 562.4,53.5 562.7,52.8 563,57.1 563.3,59.5 563.6,60.3 563.9,59 564.2,60.2 564.5,58.2 564.8,57.6 565.1,59.7 565.4,58.5 565.4,57.9 565.7,60.2 566,58.7 566.3,61.6 566.6,62 566.9,60.3 567.2,59.6 567.5,61 567.8,61.6 568.1,59.9 568.4,60.4 568.7,59.9 569,62.5 569.3,63.4 569.6,58.9 569.9,56.9 569.9,59 570.2,60.9 570.5,63 570.8,64.3 571.1,62.7 571.4,61.4 571.7,63.6 572,60.2 572.3,62.8 572.6,60 572.9,61.3 573.2,61.7 573.5,61.1 573.8,59.9 574.1,59.9 574.4,61.8 574.7,59.2 574.9,59.1 575,59.5 575.3,58.5 575.6,61.5 575.9,60.1 576.2,61.4 576.5,62.8 576.8,63.1 577.1,58.6 577.4,62 577.7,62.2 578,59.6 578.3,59.7 578.6,60 578.9,60.6 579.2,57.7 579.2,58.2 579.5,60.4 579.8,60.8 580.1,58.7 580.4,62.2 580.7,57.8 581,57.9 581.3,60 581.4,59.2 581.6,57.3 581.9,59.2 582.2,58.6 582.5,60.6 582.8,62.5 583.1,62.7 583.4,58.1 583.7,57.2 584,59.8 584.2,58.1 584.3,56.1 584.6,58.1 584.9,58.6 585.2,59.2 585.5,59.1 585.8,61.9 586.1,62.2 586.4,61.5 586.7,61.3 587,59.1 587.3,56.5 587.5,56.6 587.6,57.2 587.9,59.6 588.2,59.4 588.5,58.7 588.8,58.4 589.1,62.6 589.4,61 589.7,59.9 590,61 590.3,60.6 590.6,59.6 590.9,55.7 591.2,55.6 591.3,56.3 591.5,56.6 591.8,57.3 592.1,61.3 592.4,59 592.7,59.3 593,58.5 593.3,57.7 593.6,57 593.7,55.9 593.9,57.2 594.2,55.5 594.5,59.8 594.8,56.8 595.1,60.9 595.4,60.6 595.7,60.3 596,56.1 596.3,56 596.5,57.8 596.6,59.3 596.9,58 597.2,58 597.5,61.3 597.8,57.3 598.1,59.6 598.4,58.8 598.7,55.4 599,53.4 599.2,52.8 599.3,54 599.6,57.5 599.9,55.9 600.2,58.6 600.5,56.3 600.8,59.2 601.1,55.6 601.3,57.5 601.4,55.4 601.7,57.2 602,59.2 602.3,57.8 602.6,57.4 602.9,60.7 603.2,60.9 603.5,61.3 603.8,58.8 604.1,59.3 604.4,58.5 604.7,59.8 605,58.3 605.3,57.4 605.6,58.4 605.9,58.6 605.9,56.5 606.2,57.3 606.5,56 606.8,59.4 607.1,58.7 607.4,61.1 607.7,59.6 608,59.9 608.2,58.3 608.3,59.2 608.6,58.6 608.9,60.6 609.2,60.7 609.5,58.5 609.8,58 610.1,58.8 610.4,58.5 610.7,55.1 611,56.3 611,55.6 611.3,57.6 611.6,56.6 611.9,60.9 612.2,60.4 612.5,58.9 612.8,58.8 613.1,59 613.4,58.9 613.7,60.8 614,59.6 614.3,59.6 614.6,57.3 614.9,59.8 615.2,55.8 615.4,56.2 615.5,55.4 615.8,55.1 616.1,60.5 616.4,58.9 616.7,61.2 617,61.2 617.3,61 617.6,58.7 617.9,57.6 618,55.5 618.2,58.4 618.5,59.6 618.8,57.1 619.1,58.8 619.4,58.6 619.7,59.8 620,58.1 620.3,57.1 620.6,57 620.6,55.9 620.9,55.3 621.2,57.9 621.5,55.7 621.8,53.4 622,53.7 622.1,53.8 622.4,58 622.7,57.9 623,57 623.3,56.9 623.6,58.9 623.9,57.9 624.2,59.1 624.5,57.1 624.5,55.7 624.8,56.9 625.1,58.8 625.4,56.3 625.7,57 626,59.4 626.3,58.1 626.6,57 626.9,57.2 627.1,58.2 627.2,58.8 627.5,58.9 627.8,57.4 628.1,57.7 628.4,61.4 628.7,60.5 629,58.4 629.3,61.6 629.6,57.6 629.9,58.7 630.2,60.2 630.4,58.3 630.5,59.3 630.8,57.9 631.1,61.4 631.4,60.4 631.7,61.7 632,61.8 632.3,59.6 632.6,60.7 632.9,59.6 633.2,60 633.5,58.2 633.5,56.8 633.8,58.6 634.1,60.5 634.4,62 634.7,58.6 635,58 635.3,59.9 635.6,59.3 635.9,57.2 636.2,56.3 636.5,55.4 636.6,55.8 636.8,57.7 637.1,57.8 637.4,57.7 637.7,56.1 638,60.5 638.3,59.2 638.6,58.3 638.9,58.9 639.2,60.6 639.5,57 639.8,56.7 640.1,56.5 640.4,58.4 640.6,56.5 640.7,57.7 641,59.4 641.3,58.5 641.6,59.6 641.9,60.1 642.2,60.2 642.5,60.1 642.8,60.5 643,58.7 643.1,60.9 643.4,59.2 643.7,60.9 644,59.5 644.3,59.5 644.6,60.5 644.9,60.9 645.2,60.7 645.5,62.7 645.8,58.8 646.1,60.7 646.4,62 646.7,60.1 647,58.6 647.3,57 647.6,56.8 647.7,57.2 647.9,59.3 648.2,59.5 648.5,59 648.8,60.5 649.1,60.5 649.4,59.6 649.7,57 649.8,57.6 650,57.7 650.3,60.1 650.6,59.2 650.9,61.7 651.2,60.8 651.5,60.3 651.8,60.8 652.1,59.1 652.4,60 652.7,60 653,57.7 653.3,57.9 653.6,57.9 653.9,60.4 654,58.7 654.2,59.2 654.5,58 654.8,61.6 655.1,58.3 655.4,59.2 655.7,59.8 656,59.1 656.2,58.2 656.3,57.9 656.6,59.9 656.9,59.3 657.2,61.2 657.5,60.7 657.8,63.3 658.1,62.3 658.4,59.5 658.7,59.7 659,63.5 659.3,60 659.6,58.7 659.9,59.2 660.2,59.3 660.5,60.6 660.8,57.4 660.9,57.8 661.1,59 661.4,60.2 661.7,57.7 662,61 662.3,63.4 662.6,61.7 662.9,61.7 663.2,60.9 663.5,63.7 663.8,63.8 664.1,59.7 664.4,61.2 664.7,59.5 665,59.1 665.3,55.8 665.3,57.5 665.6,57.2 665.9,58.8 666.2,60.9 666.5,63 666.8,63.4 667.1,63.1 667.4,62.5 667.7,59.6 668,60.5 668.3,61.1 668.6,58.4 668.9,58.5 669.2,59.7 669.4,57.8 669.5,56.1 669.8,60 670.1,57.5 670.4,59.7 670.7,62.7 671,59.8 671.3,61 671.6,60 671.9,61.3 672.2,61 672.5,57.2 672.6,58.2 672.8,58.3 673.1,60.7 673.4,60 673.7,59.3 674,62.5 674.3,61 674.6,61.9 674.9,59.7 675.2,64.1 675.5,62 675.8,62.2 676.1,61.3 676.3,58.8 676.4,57.7 676.7,59.7 677,60.5 677.3,62.8 677.6,63.6 677.9,60.9 678.2,61.1 678.5,63.1 678.8,61.8 679.1,60.5 679.4,60.8 679.7,62.5" stroke="#666" stroke-width="1.25"/>
<polyline points="377.3,120.1 377.6,120 377.9,116.9 378.2,117 378.5,119.5 378.8,119.1 379.1,118.8 379.4,117.5 379.7,118.5 380,118.5 380.3,118.3 380.6,116.9 380.9,117.7 381.2,117.6 381.5,118.7 381.8,119.5 382.1,119.3 382.4,117.9 382.7,117.5 383,116.9 383.3,116.1 383.6,116 383.9,117.4 384.2,116.9 384.5,117.1 384.8,118.8 385.1,117.5 385.4,117.5 385.7,116.4 386,115.6 386.3,116.6 386.6,115.9 386.9,117.2 387.2,118.8 387.5,117.6 387.8,115.9 388.1,118.3 388.4,117.9 388.7,117.7 389,118.2 389.3,117.7 389.6,117.7 389.9,116.2 390.2,118.3 390.5,118.2 390.8,115.4 391.1,117.4 391.4,117.2 391.7,116.3 392,116.5 392.3,116.3 392.6,117.8 392.9,116.3 393.2,117.4 393.5,115.7 393.8,117.4 394.1,117.5 394.4,115.9 394.7,116.2 395,117.4 395.3,116.7 395.6,115.8 395.9,114.9 396.2,115.2 396.5,116.4 396.8,114.6 397.1,117.1 397.4,114.8 397.7,117 398,114.9 398.3,117.1 398.6,116.2 398.9,115.4 399.2,115.4 399.5,115.9 399.8,115.6 400.1,114.6 400.4,114.2 400.7,115.2 401,116.6 401.3,115.5 401.6,113.6 401.9,116.1 402.2,115.8 402.5,116.3 402.8,113.9 403.1,115.7 403.4,113.3 403.7,115.3 404,114 404.3,113.8 404.6,116 404.9,113.3 405.2,114.7 405.5,115.8 405.8,113.6 406.1,113.5 406.4,115.7 406.7,114.1 407,115.1 407.3,112.7 407.6,113.8 407.9,113.1 408.2,114.8 408.5,112.7 408.8,115.7 409.1,112.5 409.4,114.8 409.7,112.4 410,113.1 410.3,115 410.6,112.7 410.9,112.8 411.2,114.5 411.5,113.4 411.8,112.2 412.1,115.3 412.4,112.5 412.7,112 413,113 413.3,113.9 413.6,114.3 413.9,112.1 414.2,112.9 414.5,111.8 414.8,113.2 415.1,114.2 415.4,114.1 415.7,114.6 416,114 416.3,114.4 416.6,113.8 416.9,113 417.2,112.1 417.5,113.5 417.8,112.3 418.1,111.5 418.4,112.7 418.7,114.1 419,111.5 419.3,113 419.6,112.3 419.9,112.7 420.2,111.4 420.5,114.1 420.8,111.7 421.1,112.9 421.4,112.2 421.7,110.8 422,112.6 422.3,111.2 422.6,110.8 422.9,110.7 423.2,111.1 423.5,110.9 423.8,112.7 424.1,112.2 424.4,113.8 424.7,113.6 425,113.8 425.3,111.2 425.6,111.8 425.9,111.2 426.2,112.3 426.5,112.4 426.8,112.9 427.1,112.6 427.4,111 427.7,111.5 428,111.9 428.3,110.1 428.6,110.1 428.9,111.4 429.2,110.3 429.5,112.4 429.8,110.7 430.1,110.2 430.4,110.4 430.7,110.6 431,110.5 431.3,111.5 431.6,111.3 431.9,110.7 432.2,111.8 432.5,110.3 432.8,112.6 433.1,112.8 433.4,112 433.7,110.9 434,111.2 434.3,111.4 434.6,109.5 434.9,110.8 435.2,111.1 435.5,109.9 435.8,109.6 436.1,111.9 436.4,110.4 436.7,110.8 437,112.1 437.3,110.9 437.6,109.8 437.9,112 438.2,109.9 438.5,108.6 438.8,110.8 439.1,108.7 439.4,109.3 439.7,111.1 440,110.4 440.3,108.1 440.6,109.5 440.9,109.3 441.2,109.4 441.5,108.4 441.8,109.6 442.1,107.8 442.4,108.4 442.7,108.6 443,110.5 443.3,107.6 443.6,110 443.9,108.1 444.2,109.4 444.5,108.8 444.8,109.1 445.1,110.2 445.4,109 445.7,108.1 446,108.1 446.3,108 446.6,110.7 446.9,110 447.2,111.1 447.5,110.2 447.8,108 448.1,110.1 448.4,110.5 448.7,110.3 449,109.5 449.3,109 449.6,109.3 449.9,110.5 450.2,108.7 450.5,109.5 450.8,109.3 451.1,110.9 451.4,110.4 451.7,110.8 452,110.5 452.3,108.6 452.6,108.4 452.9,109.3 453.2,108.5 453.5,109 453.8,109.9 454.1,110.7 454.4,109.5 454.7,110.3 455,107.8 455.3,108.7 455.6,110.8 455.9,107.9 456.2,108.8 456.5,107.6 456.8,107.7 457.1,110.4 457.4,110.7 457.7,109.5 458,107.8 458.3,108.3 458.6,108.1 458.9,109.5 459.2,109.6 459.5,108.7 459.8,109 460.1,107.6 460.4,109 460.7,110.4 461,109.7 461.3,107.5 461.6,108.9 461.9,109.5 462.2,108 462.5,110.1 462.8,108.6 463.1,109.4 463.4,108.4 463.7,110.4 464,109.6 464.3,108.9 464.6,107.4 464.9,108.4 465.2,107 465.5,108.9 465.8,109.9 466.1,107.5 466.4,108.6 466.7,108.4 467,108.2 467.3,109.2 467.6,109.9 467.9,109.1 468.2,108.3 468.5,109.9 468.8,107.8 469.1,109.1 469.4,108.8 469.7,109.2 470,109.4 470.3,107.3 470.6,108.6 470.9,107.8 471.2,108.7 471.5,109.7 471.8,108.6 472.1,106.4 472.4,107.9 472.7,108.7 473,109.3 473.3,108.5 473.6,109 473.9,106.3 474.2,109.4 474.5,108.7 474.8,108.2 475.1,109.2 475.4,109.1 475.7,106.4 476,108.8 476.3,108.6 476.6,106.7 476.9,108.5 477.2,108 477.5,106.6 477.8,108.7 478.1,106.4 478.4,108 478.7,107.3 479,106.7 479.3,107.7 479.6,107.4 479.9,106.5 480.2,109 480.5,106 480.8,105.7 481.1,107.3 481.4,108.5 481.7,107.8 482,108.2 482.3,107.2 482.6,107.8 482.9,106.7 483.2,106.4 483.5,107.2 483.8,105.5 484.1,105.7 484.4,108 484.7,106 485,107.9 485.3,108 485.6,106.7 485.9,107.6 486.2,107.9 486.5,108.2 486.8,105.7 487.1,105.7 487.4,106.5 487.7,106.7 488,106.1 488.3,105.1 488.6,107 488.9,108.3 489.2,106.3 489.5,106.8 489.8,106.3 490.1,106.5 490.4,107.9 490.7,106 491,107.1 491.3,106.5 491.6,106.7 491.9,107.9 492.2,105.1 492.5,107.6 492.8,105.8 493.1,106.9 493.4,107.4 493.7,106.9 494,106 494.3,107.5 494.6,105 494.9,106.8 495.2,105.9 495.5,106.4 495.8,107.5 496.1,107.2 496.4,106.7 496.7,105.5 497,105.3 497.3,106 497.6,105.2 497.9,105.4 498.2,107.6 498.5,104.7 498.8,107.1 499.1,105.6 499.4,105.5 499.7,105.4 500,104.5 500.3,105.8 500.6,104.8 500.9,105.7 501.2,105.2 501.5,107.2 501.8,107.3 502.1,105.6 502.4,106.3 502.7,107.2 503,105.2 503.3,104.4 503.6,104.8 503.9,104.6 504.2,106.3 504.5,105.2 504.8,105.1 505.1,106.6 505.4,104.7 505.7,106.6 506,106 506.3,105.2 506.6,106.6 506.9,104.9 507.2,106.7 507.5,106.9 507.8,105.4 508.1,106 508.4,106.9 508.7,106.2 509,106.2 509.3,106.6 509.6,106.8 509.9,106.1 510.2,106.9 510.5,104.5 510.8,105.6 511.1,105.7 511.4,104.7 511.7,104.7 512,103.9 512.3,106.5 512.6,104.4 512.9,104.8 513.2,106.2 513.5,103.7 513.8,106.3 514.1,103.4 514.4,103 514.7,104.1 515,104 515.3,105.8 515.6,105.5 515.9,104.9 516.2,103.5 516.5,103.5 516.8,102.1 517.1,103.9 517.4,102.2 517.6,102.5 517.7,101.8 518,103 518.3,101.5 518.6,102.3 518.9,104.6 519.2,102 519.5,102.3 519.8,102.6 520.1,102.7 520.4,103.1 520.7,102.3 521,102.1 521.3,101.3 521.6,100.7 521.9,101.7 522.1,101.2 522.2,100.7 522.5,101 522.8,102.8 523.1,100.9 523.4,101.6 523.7,104.4 524,103.1 524.3,104.4 524.6,102.3 524.9,103.6 525.2,104.7 525.5,102.9 525.8,104.4 526.1,103.8 526.4,103.1 526.7,105.1 527,103 527.3,103.3 527.6,103.7 527.9,102.6 528.2,104.3 528.5,103.4 528.8,103.3 529.1,103.1 529.4,104.5 529.7,104.4 530,103.9 530.3,102.5 530.6,102.3 530.9,102.6 531.2,100.9 531.5,101 531.8,103.9 532.1,100.9 532.4,103.6 532.7,102.7 533,103.4 533.3,100.5 533.6,101.2 533.9,102.8 534.2,100 534.5,100.2 534.8,101 535.1,100.4 535.4,100.2 535.7,102 536,99.9 536.3,102.9 536.6,101.7 536.9,99.6 537.2,102.3 537.5,100 537.8,100.7 538.1,100.8 538.4,99.2 538.7,100.2 539,98.5 539.3,98.7 539.6,100.9 539.9,100.3 540.2,99.1 540.5,99.4 540.8,99.8 541.1,97 541.4,97.9 541.7,96.3 542,95.8 542.3,94.9 542.5,95.5 542.6,94.1 542.9,91.9 543.2,90.6 543.5,89.3 543.8,88.9 544.1,88.1 544.4,90 544.7,91.7 545,93.1 545.3,94.5 545.6,97.7 545.9,96.5 546.2,97.2 546.5,100.1 546.8,99.8 547.1,98.5 547.4,99.2 547.7,99 548,99.5 548.3,99.5 548.6,99.4 548.9,100.8 549.2,100.8 549.5,100 549.8,99.6 550.1,99 550.4,100.6 550.7,101.3 551,98.7 551.3,100.3 551.6,100.3 551.9,100.2 552.2,98 552.5,99.8 552.8,98.6 553.1,98.6 553.4,100 553.7,100.2 554,100.1 554.3,100.5 554.6,100.4 554.9,99.7 555.2,98.2 555.5,100.7 555.8,100.9 556.1,100.9 556.4,100.1 556.7,98.3 557,98.8 557.3,98.5 557.6,100.3 557.9,100 558.2,98.8 558.5,101.4 558.8,101.5 559.1,101.3 559.4,99.8 559.7,99.2 560,99 560.3,101.1 560.6,100.7 560.9,99.2 561.2,101.4 561.5,100.3 561.8,99.7 562.1,99.8 562.4,100.8 562.7,99.9 563,100.6 563.3,98.8 563.6,100.8 563.9,99.3 564.2,101.4 564.5,99 564.8,99.3 565.1,100 565.4,99.5 565.7,99.9 566,101.2 566.3,98.7 566.6,100.6 566.9,100.3 567.2,100.5 567.5,99.4 567.8,99.3 568.1,98.9 568.4,99.3 568.7,98.5 569,98.3 569.3,99.2 569.6,98.2 569.9,99.1 570.2,99.4 570.5,98.5 570.8,98 571.1,99.4 571.4,100.2 571.7,98 572,99.3 572.3,99.4 572.6,100.1 572.9,99.4 573.2,98.1 573.5,97.7 573.8,99.8 574.1,97.9 574.4,97 574.7,99.9 575,97.6 575.3,98 575.6,97.9 575.9,97.3 576.2,98.1 576.5,95.5 576.8,94.2 577.1,92.9 577.3,92.9 577.4,94.1 577.7,92.3 578,95.9 578.3,95.9 578.6,96.9 578.9,99 579.2,98.4 579.5,97.4 579.8,99.2 580.1,100.3 580.4,99.4 580.7,98.9 581,100 581.3,100.4 581.6,97.8 581.9,98.3 582.2,100.6 582.5,100.5 582.8,98 583.1,99.7 583.4,100.3 583.7,99.4 584,99.8 584.3,99.2 584.6,98.2 584.9,98.2 585.2,97.7 585.5,99.7 585.8,98 586.1,99.6 586.4,98.9 586.7,99 587,100.9 587.3,98.9 587.6,99.2 587.9,98.9 588.2,98.3 588.5,98.4 588.8,99.5 589.1,100.4 589.4,98 589.7,100.9 590,100 590.3,97.8 590.6,100 590.9,99 591.2,99.4 591.5,97.9 591.8,99.3 592.1,99.3 592.4,100.2 592.7,99.5 593,99.9 593.3,100 593.6,98.2 593.9,97.5 594.2,99 594.5,97.8 594.8,97.8 595.1,98.4 595.4,99.1 595.7,99.4 596,99.5 596.3,100.5 596.6,97.6 596.9,99.1 597.2,97.5 597.5,99.4 597.8,98.6 598.1,97.6 598.4,98.2 598.7,99.3 599,98.7 599.3,100.3 599.6,98.2 599.9,98.2 600.2,100.1 600.5,99 600.8,97.3 601.1,99.6 601.4,98.1 601.7,100.1 602,99 602.3,99.6 602.6,99.9 602.9,98.5 603.2,100.1 603.5,96.8 603.8,97.9 604.1,99.6 604.4,96.7 604.7,98.9 605,100 605.3,99 605.6,99.5 605.9,96.8 606.2,98.3 606.5,98.5 606.8,97.9 607.1,97.8 607.4,99 607.7,96.9 608,96.4 608.3,98.2 608.6,99.5 608.9,99 609.2,98.4 609.5,97.1 609.8,99.1 610.1,96.2 610.4,96.8 610.7,98.6 611,99 611.3,97.3 611.6,98.9 611.9,96.2 612.2,97.8 612.5,96 612.8,96.5 613.1,96.3 613.4,95.7 613.7,97 614,97.3 614.3,96.5 614.6,97.7 614.9,95.6 615.2,97.2 615.5,97.2 615.8,96.7 616.1,98.4 616.4,95.7 616.7,96.7 617,96.7 617.3,96.4 617.6,98.4 617.9,97 618.2,96.7 618.5,96.4 618.8,96.3 619.1,98 619.4,97.5 619.7,96.9 620,95.2 620.3,96.6 620.6,95 620.9,95.7 621.2,94.5 621.5,96.8 621.8,97.6 622.1,96.4 622.4,96.1 622.7,95 623,95.6 623.3,95.6 623.6,95.4 623.9,94.8 624.2,94.6 624.5,96.4 624.8,97 625.1,96.5 625.4,95.8 625.7,93.7 626,94.6 626.3,96.3 626.6,96.7 626.9,95.2 627.2,95.3 627.5,95.6 627.8,94 628.1,95.6 628.4,94.3 628.7,95.9 629,94.5 629.3,95.2 629.6,94.7 629.9,94.6 630.2,94.3 630.5,95.9 630.8,95.2 631.1,94 631.4,94.2 631.7,95.5 632,94.9 632.3,94.5 632.6,95.5 632.9,92.6 633.2,94.1 633.5,94.2 633.8,93.5 634.1,95.2 634.4,95.1 634.7,93.1 635,93.8 635.3,94.3 635.6,94 635.9,92.9 636.2,94.4 636.5,92.8 636.8,92.1 637.1,93.8 637.4,93.5 637.7,92.2 638,91.6 638.3,91.9 638.6,89.9 638.9,87.4 639.2,87.3 639.5,89.2 639.8,89.2 640.1,90.1 640.4,92.2 640.7,93.6 641,94.6 641.3,94.1 641.6,94.2 641.9,93.4 642.2,92.2 642.5,93.6 642.8,92.5 643.1,95.3 643.4,93.4 643.7,94.2 644,94.7 644.3,92.8 644.6,95 644.9,93.3 645.2,92.5 645.5,94.3 645.8,93.6 646.1,95.4 646.4,93.8 646.7,92.7 647,92.4 647.3,92.5 647.6,94.1 647.9,94.8 648.2,92.4 648.5,93.3 648.8,93.8 649.1,95.1 649.4,95.3 649.7,94.9 650,94.1 650.3,93.8 650.6,92.5 650.9,93.8 651.2,92.2 651.5,92.6 651.8,94.3 652.1,93.4 652.4,93.8 652.7,92.9 653,92.2 653.3,92.9 653.6,93 653.9,91.9 654.2,93.8 654.5,94.2 654.8,91.5 655.1,91.6 655.4,93.5 655.7,93.1 656,91.3 656.3,92.5 656.6,91.3 656.9,93.3 657.2,92.3 657.5,92 657.8,90.9 658.1,91.7 658.4,91.9 658.7,91.6 659,90.9 659.3,91 659.6,92.7 659.9,93.5 660.2,93.2 660.5,92.4 660.8,93 661.1,90.6 661.4,90.7 661.7,92 662,89 662.3,88.4 662.6,89.6 662.9,86.3 663,86.9 663.2,84.9 663.5,84.5 663.8,85.3 664,84 664.1,82.4 664.4,85.8 664.7,84.9 665,87.2 665.3,88.2 665.6,88.3 665.9,92.1 666.2,90.1 666.5,92.7 666.8,93.2 667.1,91.9 667.4,93.7 667.7,90.7 668,91 668.3,92.1 668.6,90.8 668.9,93.3 669.2,92.3 669.5,93.2 669.8,91.5 670.1,90.6 670.4,93.6 670.7,91.2 671,92 671.3,91 671.6,92.5 671.9,92.1 672.2,91.2 672.5,90.7 672.8,91.7 673.1,93.2 673.4,91.1 673.7,91.4 674,92.7 674.3,92.8 674.6,93.3 674.9,92.8 675.2,93.5 675.5,91.2 675.8,93.8 676.1,90.7 676.4,91 676.7,91 677,93.3 677.3,92.4 677.6,93.8 677.9,94 678.2,93.9 678.5,92.8 678.8,91.9 679.1,93.9 679.4,93.2 679.7,91.4" stroke="#d4d400" stroke-width="1.4"/>
<polyline points="377.3,172.1 377.6,172.3 377.9,172.2 378.2,172.4 378.5,172.4 378.8,171.9 379.1,171.8 379.4,172.5 379.7,172 380,172 380.3,172.6 380.6,172.2 380.9,172.4 381.2,172.1 381.5,172.3 381.8,171.9 382.1,172.2 382.4,172.4 382.7,172.1 383,172.2 383.3,171 383.6,160.8 383.9,136.2 384.1,126.8 384.2,129.4 384.5,153.6 384.8,168.8 385.1,172.2 385.4,172 385.7,172.2 386,172.3 386.3,172.1 386.6,172.3 386.9,171.9 387.2,172.2 387.5,171.9 387.8,172.3 388.1,172.2 388.4,171.6 388.7,171.6 389,171.6 389.3,172.2 389.6,171.8 389.9,171.9 390.2,171.7 390.5,171.8 390.8,171.7 391.1,171.7 391.4,171.9 391.7,171.9 392,172.2 392.3,172 392.6,172.2 392.9,172.1 393.2,172.3 393.5,172 393.8,171.6 394.1,172.2 394.4,172.3 394.7,172.2 395,172 395.3,172.1 395.6,171.7 395.9,172.2 396.2,172 396.5,171.8 396.8,171.6 397.1,172.3 397.4,172.4 397.7,171.7 398,172.2 398.3,171.9 398.6,171.7 398.9,171.9 399.2,172.3 399.5,172.4 399.8,171.7 400.1,172.2 400.4,171.7 400.7,172.3 401,172 401.3,172.4 401.6,172.4 401.9,172 402.2,171.2 402.5,160.4 402.8,134 403,124.7 403.1,127.4 403.4,152.5 403.7,168.8 404,171.7 404.3,172 404.6,171.6 404.9,171.5 405.2,172.1 405.5,171 405.8,169.5 406,168.4 406.1,168.9 406.4,170.4 406.7,171.6 407,171.8 407.3,171.9 407.6,171.8 407.9,171.7 408.2,171.8 408.5,172 408.8,171.7 409.1,171.5 409.4,171.2 409.7,168.2 410,164.8 410.1,164.6 410.3,166.2 410.6,169.5 410.9,171.3 411.2,171.1 411.5,171.4 411.8,171.5 412.1,171.1 412.4,171.5 412.7,171.5 413,171.1 413.3,171.5 413.6,171.3 413.9,171.5 414.2,171.2 414.5,171.5 414.8,171.5 415.1,170.9 415.4,170.9 415.7,171.4 416,171.6 416.3,170.9 416.6,169.9 416.9,162.5 417.2,146.4 417.4,141.1 417.5,142.4 417.8,157.1 418.1,167.3 418.4,168.5 418.7,166.6 419,165.9 419.3,166.6 419.6,168.8 419.9,169.6 420.2,170.8 420.5,171.1 420.8,170.7 421.1,170.6 421.4,170.7 421.7,167.3 422,159.7 422.2,157.2 422.3,157.9 422.6,165.3 422.9,169.4 423.2,170.3 423.5,170.3 423.8,170.7 424.1,170.3 424.4,170.6 424.7,170 425,170.1 425.3,170.3 425.6,170.5 425.9,170 426.2,168.8 426.5,163.1 426.8,154.4 426.9,153.5 427.1,156.6 427.4,166.1 427.7,169.7 428,169.5 428.3,169.6 428.6,170 428.9,169.8 429.2,169.7 429.5,168.8 429.8,167.7 430.1,167 430.2,167.1 430.4,167.6 430.7,168.1 431,168.9 431.3,169.2 431.6,169.3 431.9,169.2 432.2,169.6 432.5,169 432.8,168.8 433.1,169.5 433.4,169.5 433.7,169.5 434,169 434.3,169.4 434.6,169.4 434.9,168.6 435.2,167.5 435.5,162.9 435.8,159 436.1,162.6 436.4,167.1 436.7,168 437,167.2 437.3,166 437.5,165.9 437.6,165.6 437.9,167 438.2,167.8 438.5,168.7 438.8,168.2 439.1,168.9 439.4,168.7 439.7,168.9 440,168.7 440.3,167.6 440.6,162.6 440.9,155.6 441,155.3 441.2,157.8 441.5,164.3 441.8,167.6 442.1,168.4 442.4,168.3 442.7,168.2 443,168.5 443.3,168.2 443.6,166.8 443.9,162.5 444.2,159 444.5,162.9 444.8,166.8 445.1,168.1 445.4,167.8 445.7,167.7 446,167.9 446.3,167.9 446.6,165.4 446.9,159.8 447.2,155 447.5,159.9 447.8,165.8 448.1,167.7 448.4,167.3 448.7,167.7 449,167.9 449.3,167.2 449.6,167.1 449.9,165.8 450.2,163.1 450.4,162.2 450.5,162.4 450.8,165.2 451.1,167.4 451.4,167.3 451.7,167.2 452,165.2 452.3,158.7 452.6,154.1 452.9,158.8 453.2,166.1 453.5,168.1 453.8,166.4 454.1,160.9 454.4,152.8 454.5,152.2 454.7,155 455,163.6 455.3,167.9 455.6,168.6 455.9,168.5 456.2,168.4 456.5,168.6 456.8,168.5 457.1,168.9 457.4,169.1 457.7,168.8 458,168.7 458.3,168.8 458.6,168.9 458.9,169.1 459.2,169.3 459.5,168.7 459.8,166 460.1,151.9 460.4,132.2 460.5,129.9 460.7,134.8 461,150.1 461.3,153.7 461.6,152.2 461.9,155.1 462.2,161.3 462.5,166 462.8,168.2 463.1,169.2 463.4,169.5 463.7,169.1 464,169.4 464.3,169.4 464.6,169.8 464.9,169.8 465.2,169.4 465.5,169.8 465.8,169.7 466.1,169.3 466.4,169.4 466.7,168.3 467,166.5 467.3,163.8 467.4,163.4 467.6,164.6 467.9,167.5 468.2,169.2 468.5,169.6 468.8,169.5 469.1,169.2 469.4,169.5 469.7,168.8 470,167.9 470.3,166.7 470.5,165.9 470.6,165.7 470.9,167.3 471.2,168.7 471.5,169.7 471.8,169.2 472.1,169 472.4,168.9 472.7,166.7 473,165.9 473.3,167.3 473.6,168.8 473.9,169.6 474.2,169.9 474.5,169.6 474.8,169.7 475.1,169.1 475.4,169.7 475.7,169.5 476,169.7 476.3,169.2 476.6,169.7 476.9,169.8 477.2,169.1 477.5,169.3 477.8,169.3 478.1,168.8 478.4,167.1 478.7,165.1 479,163.6 479.2,163.4 479.3,163.6 479.6,164.9 479.9,166.3 480.2,167.2 480.5,166.8 480.8,166 481,165.9 481.1,165.9 481.4,166.6 481.7,168.2 482,169.4 482.3,169.3 482.6,169.7 482.9,169.2 483.2,169.7 483.5,169.7 483.8,169.6 484.1,169.5 484.4,169.5 484.7,169.6 485,169.8 485.3,169.2 485.6,169.1 485.9,169.6 486.2,169.7 486.5,169.4 486.8,169.3 487.1,169.5 487.4,169 487.7,169 488,169 488.3,169.2 488.6,169 488.9,168.9 489.2,169.2 489.5,169.4 489.8,168.9 490.1,169.2 490.4,168.9 490.7,169.2 491,169 491.3,168.7 491.6,168.6 491.9,168.4 492.2,168.8 492.5,168.7 492.8,168.5 493.1,168.6 493.4,168.5 493.7,168.8 494,168.3 494.3,169 494.6,168.5 494.9,168.6 495.2,168.5 495.5,168.8 495.8,168.8 496.1,168.6 496.4,168.6 496.7,168.8 497,168.9 497.3,168.6 497.6,168.9 497.9,169.1 498.2,168.6 498.5,167.5 498.8,162.2 499.1,150.1 499.4,141.1 499.7,147.2 500,156 500.3,157.5 500.5,157.2 500.6,157.4 500.9,160.4 501.2,164.6 501.5,167.3 501.8,168.7 502.1,168.2 502.4,166.3 502.7,164.6 503,165.8 503.3,168.4 503.6,168.9 503.9,169.1 504.2,169.4 504.5,168.9 504.8,169 505.1,169.6 505.4,169.1 505.7,169.1 506,169.2 506.3,169.3 506.6,168.7 506.9,168.9 507.2,169 507.5,169 507.8,168.7 508.1,169 508.4,169.2 508.7,168.7 509,168.8 509.3,168.4 509.6,168.2 509.9,167.7 510.2,165.6 510.5,164.1 510.8,162.8 511.1,164.1 511.4,165.4 511.7,167.7 512,168 512.3,168.5 512.6,168.5 512.9,168.1 513.2,168.3 513.5,168 513.8,167.4 514.1,165.9 514.4,165.6 514.5,165.3 514.7,165.9 515,166.5 515.3,167.3 515.6,167.5 515.9,167.9 516.2,167.9 516.5,168.2 516.8,168.1 517.1,168.1 517.4,167.7 517.7,168.1 518,168.1 518.3,167.7 518.6,168.3 518.9,168.1 519.2,167.7 519.5,168.3 519.8,167.7 520.1,167.9 520.4,168.2 520.7,168.1 521,168 521.3,168.1 521.6,168 521.9,167.8 522.2,167.7 522.5,167.7 522.8,168.2 523.1,168.2 523.4,168 523.7,168.2 524,167.9 524.3,167.8 524.6,167.9 524.9,168.3 525.2,167.6 525.5,168 525.8,167.8 526.1,168.2 526.4,167.9 526.7,167.9 527,167.9 527.3,168 527.6,168.2 527.9,167.9 528.2,168.3 528.5,167.7 528.8,167.8 529.1,167.7 529.4,167.7 529.7,168.2 530,168.2 530.3,167.7 530.6,167.7 530.9,167.6 531.2,167.2 531.5,166.3 531.8,165.6 531.9,165.3 532.1,165.6 532.4,166.1 532.7,167.3 533,167.6 533.3,168.1 533.6,168.2 533.9,167.9 534.2,167.9 534.5,168.4 534.8,167.8 535.1,168.4 535.4,168.5 535.7,168.5 536,167.7 536.3,166.2 536.6,163.5 536.8,162.6 536.9,162.9 537.2,165.6 537.5,167.6 537.8,168 538.1,168.5 538.4,168.2 538.7,168.3 539,168.5 539.3,167.9 539.6,168.5 539.9,168.4 540.2,168.3 540.5,168.3 540.8,168.3 541.1,168.1 541.4,168.3 541.7,167.9 542,168.3 542.3,168.4 542.6,168.3 542.9,168.4 543.2,168.7 543.5,168.6 543.8,168 544.1,168.5 544.4,168.4 544.7,167.9 545,168.2 545.3,168.1 545.6,168 545.9,168.3 546.2,168.6 546.5,168.2 546.8,168.6 547.1,168.5 547.4,168 547.7,168.6 548,168.4 548.3,168.5 548.6,167.5 548.9,165.8 549.2,164.4 549.5,165.5 549.8,167.6 550.1,168.5 550.4,168.6 550.7,168.2 551,168.5 551.3,168.3 551.6,168 551.9,167.9 552.2,168 552.5,168.1 552.8,168 553.1,168.3 553.4,168.5 553.7,168.3 554,168.2 554.3,168.4 554.6,168.1 554.9,168.3 555.2,168.5 555.5,168.2 555.8,168 556.1,168.6 556.4,168.5 556.7,168.2 557,168.2 557.3,168.3 557.6,168.4 557.9,168.1 558.2,167.9 558.5,168.1 558.8,168.5 559.1,168 559.4,168.3 559.7,168.1 560,168.1 560.3,168 560.6,168.2 560.9,168 561.2,167.9 561.5,168 561.8,168.1 562.1,168.3 562.4,168 562.7,167.9 563,168.3 563.3,168.3 563.6,168.5 563.9,168 564.2,168.1 564.5,167 564.8,164.3 565.1,163.1 565.4,165.1 565.7,166.9 566,167.8 566.3,168.3 566.6,168.1 566.9,168.5 567.2,168.2 567.5,168.1 567.8,168 568.1,168.6 568.4,168.2 568.7,168.6 569,168.4 569.3,168.7 569.6,168.2 569.9,168.2 570.2,168.2 570.5,168.6 570.8,168.5 571.1,168.3 571.4,168.1 571.7,168.5 572,168.8 572.3,168.5 572.6,168 572.9,168 573.2,168.1 573.5,168.2 573.8,168.1 574.1,168.1 574.4,168.6 574.7,168.8 575,168.2 575.3,168.8 575.6,168.4 575.9,168.7 576.2,168.8 576.5,168.8 576.8,168.1 577.1,168.3 577.4,168.5 577.7,168.8 578,168.1 578.3,168.3 578.6,168.7 578.9,168.2 579.2,168.2 579.5,167.3 579.8,164.6 580.1,161.4 580.2,160.8 580.4,161.7 580.7,165.9 581,168.1 581.3,168.7 581.6,168.5 581.9,168.8 582.2,168.4 582.5,168.4 582.8,168.3 583.1,168.7 583.4,168.5 583.7,168.3 584,168.3 584.3,168.7 584.6,168.6 584.9,168.7 585.2,168.5 585.5,168.6 585.8,168.3 586.1,168.8 586.4,168.2 586.7,168.6 587,168.8 587.3,168.8 587.6,168.3 587.9,168.4 588.2,168.9 588.5,168.8 588.8,169 589.1,169 589.4,168.7 589.7,169 590,168.9 590.3,168.6 590.6,168.6 590.9,168.4 591.2,168.7 591.5,169.1 591.8,168.4 592.1,168.8 592.4,168.5 592.7,168.5 593,168.9 593.3,168.6 593.6,168.5 593.9,168.5 594.2,168.9 594.5,168.9 594.8,168.5 595.1,168.6 595.4,169.2 595.7,168.7 596,168.9 596.3,168.8 596.6,169.1 596.9,169 597.2,169.2 597.5,169 597.8,168.7 598.1,168.7 598.4,168.6 598.7,169.2 599,168.7 599.3,168.6 599.6,169.4 599.9,168.8 600.2,169.3 600.5,168.7 600.8,169 601.1,168.8 601.4,169.3 601.7,169.1 602,169.1 602.3,169.2 602.6,169.3 602.9,168.9 603.2,169.1 603.5,169 603.8,168.7 604.1,169.3 604.4,169.1 604.7,169.3 605,168.8 605.3,169.1 605.6,169 605.9,169.2 606.2,168.7 606.5,168.9 606.8,169 607.1,168.7 607.4,169.1 607.7,169.2 608,169 608.3,169.2 608.6,169.1 608.9,168.8 609.2,168.9 609.5,169.5 609.8,168.9 610.1,169 610.4,168.7 610.7,168.9 611,168.8 611.3,169.4 611.6,169.3 611.9,169.4 612.2,169.5 612.5,169.2 612.8,169.4 613.1,169.1 613.4,169 613.7,169.5 614,169.4 614.3,169.5 614.6,169.1 614.9,169.3 615.2,169 615.5,169.5 615.8,169.5 616.1,169 616.4,169.5 616.7,168.9 617,168.8 617.3,169.3 617.6,169 617.9,169.2 618.2,169.2 618.5,168.8 618.8,169.3 619.1,169 619.4,169.1 619.7,169 620,169.3 620.3,169.4 620.6,169 620.9,168.8 621.2,169 621.5,169.1 621.8,168.8 622.1,168.9 622.4,169.4 622.7,169.3 623,169.6 623.3,169.6 623.6,169.5 623.9,169.1 624.2,168.9 624.5,169 624.8,169.2 625.1,169.2 625.4,169.2 625.7,169.1 626,169.5 626.3,169 626.6,169.2 626.9,169.5 627.2,169.5 627.5,169 627.8,169 628.1,169.5 628.4,168.8 628.7,168.9 629,169.2 629.3,169.2 629.6,169 629.9,168.9 630.2,169 630.5,169.4 630.8,169.2 631.1,169.6 631.4,169.5 631.7,169.6 632,168.9 632.3,169 632.6,168.9 632.9,169.2 633.2,169.1 633.5,168.9 633.8,169.3 634.1,168.9 634.4,169.1 634.7,169.1 635,169.5 635.3,169.2 635.6,169.1 635.9,168.9 636.2,169.2 636.5,169.4 636.8,169.4 637.1,169.6 637.4,169.5 637.7,169.1 638,169 638.3,169.5 638.6,169.5 638.9,169.3 639.2,169.6 639.5,169.3 639.8,169.1 640.1,169 640.4,168.9 640.7,169.4 641,169.6 641.3,169.6 641.6,169.3 641.9,169.4 642.2,169.7 642.5,169.6 642.8,169.4 643.1,169.3 643.4,169.3 643.7,169.1 644,169.1 644.3,169.5 644.6,169.7 644.9,169.4 645.2,169.3 645.5,169.2 645.8,169.3 646.1,169.6 646.4,169.3 646.7,169.7 647,169.1 647.3,169.2 647.6,169.4 647.9,169.3 648.2,169.6 648.5,169.6 648.8,169.7 649.1,169.5 649.4,169 649.7,169.4 650,169.4 650.3,169.4 650.6,169.2 650.9,169.6 651.2,169.7 651.5,169.1 651.8,169.5 652.1,169.3 652.4,169.4 652.7,169.7 653,169.8 653.3,169.5 653.6,169.2 653.9,169.7 654.2,169.2 654.5,169.3 654.8,169.7 655.1,169.3 655.4,169.2 655.7,169.8 656,169.8 656.3,169.3 656.6,169.3 656.9,169.3 657.2,169.1 657.5,169.2 657.8,169.8 658.1,169.1 658.4,169.2 658.7,169.2 659,169.1 659.3,169.5 659.6,169.6 659.9,169.7 660.2,169.6 660.5,169.7 660.8,169.1 661.1,169.3 661.4,169.8 661.7,169.1 662,169.3 662.3,169.5 662.6,169.3 662.9,169.5 663.2,169.1 663.5,169.3 663.8,169.8 664.1,169.2 664.4,169.8 664.7,169.2 665,169.9 665.3,169.6 665.6,169.6 665.9,169.2 666.2,169.1 666.5,169.7 666.8,169.2 667.1,169.3 667.4,169.8 667.7,169.8 668,169.2 668.3,169.9 668.6,169.5 668.9,169.4 669.2,169.2 669.5,169.4 669.8,169.9 670.1,169.4 670.4,169.2 670.7,169.2 671,169.2 671.3,169.4 671.6,169.9 671.9,169.2 672.2,169.3 672.5,169.9 672.8,169.9 673.1,169.9 673.4,169.3 673.7,169.4 674,169.9 674.3,169.5 674.6,169.7 674.9,169.4 675.2,169.2 675.5,169.4 675.8,169.8 676.1,169.8 676.4,169.6 676.7,169.5 677,169.6 677.3,169.5 677.6,169.6 677.9,169.9 678.2,169.3 678.5,169.7 678.8,169.9 679.1,169.9 679.4,169.3 679.7,170" stroke="#dc464c" stroke-width="1.15"/>
<polyline points="377.3,218.9 377.6,218.6 377.9,219.3 378.2,218.7 378.5,218.5 378.8,219.2 379.1,220.4 379.4,220.1 379.7,220 380,218.8 380.3,219.5 380.6,218.9 380.9,218.7 381.2,218.5 381.5,218.7 381.8,220.3 382.1,220.1 382.4,220 382.7,220 383,218.7 383.3,218.9 383.6,219.6 383.9,219.8 384.2,220 384.5,220.1 384.8,218.3 385.1,219.4 385.4,219.5 385.7,219.2 386,218.4 386.3,219 386.6,218.2 386.9,220 387.2,219.8 387.5,219.1 387.8,218.5 388.1,219.9 388.4,219.1 388.7,219.7 389,219.6 389.3,218.9 389.6,218.6 389.9,219 390.2,218.6 390.5,218 390.8,218.3 391.1,219.4 391.4,217.7 391.7,217.7 392,218.9 392.3,218.1 392.6,218.6 392.9,218.4 393.2,218 393.5,219.4 393.8,217.5 394.1,217.9 394.4,217.3 394.7,218.2 395,217.3 395.3,217.4 395.6,218.1 395.9,217.1 396.2,217.5 396.5,218.2 396.8,216.3 397.1,216.2 397.4,216.4 397.7,217.5 398,217.1 398.3,216.2 398.6,216.2 398.9,215.7 399.2,216.1 399.5,215 399.8,216.3 400.1,216.5 400.4,216.5 400.7,215.8 401,216.1 401.3,213.9 401.6,214.3 401.9,215.6 402.2,215.1 402.5,214.4 402.8,215.6 403.1,215 403.4,215.4 403.7,214.3 404,214.2 404.3,214.8 404.6,214.1 404.9,214.7 405.2,215.8 405.5,214.2 405.8,212.8 406.1,211.5 406.4,209.5 406.7,207.6 407,202.8 407.3,199 407.6,196 407.8,196.3 407.9,197.4 408.2,197.3 408.5,198.7 408.8,199.1 409.1,197.1 409.4,192.3 409.7,186.6 410,179.5 410.3,178 410.6,179.8 410.9,187.7 411.2,195.6 411.5,204.9 411.8,207.9 412.1,209.5 412.4,205.8 412.7,202 413,205.9 413.3,213 413.6,214.4 413.9,214.1 414.2,213.7 414.5,210.3 414.8,205.8 415.1,197.8 415.4,192.7 415.6,190.4 415.7,191.5 416,195.8 416.3,202.5 416.6,209.3 416.9,212.7 417.2,213.9 417.5,214.3 417.8,215.8 418.1,214.2 418.4,213.6 418.7,214 419,209.5 419.3,205.9 419.5,203.6 419.6,203.7 419.9,208.6 420.2,212.4 420.5,214.9 420.8,215.4 421.1,215 421.4,214.3 421.7,214.8 422,216.4 422.3,216.7 422.6,216.9 422.9,215.8 423.2,216.7 423.5,217.2 423.8,217 424.1,217.6 424.4,217.1 424.7,217.5 425,217.6 425.3,216.7 425.6,218.1 425.9,218.2 426.2,216.3 426.5,218.2 426.8,218.2 427.1,217.6 427.4,216.2 427.7,218.1 428,216.3 428.3,218 428.6,217.1 428.9,215.2 429.2,214.6 429.5,214.6 429.8,213.4 430.1,213.2 430.2,212.6 430.4,213.7 430.7,212.8 431,213.3 431.3,216.2 431.6,214.8 431.9,217 432.2,215.4 432.5,216.9 432.8,216.8 433.1,217.1 433.4,216.4 433.7,217.2 434,215.7 434.3,216.8 434.6,216.1 434.9,217.4 435.2,217.1 435.5,216.5 435.8,216.7 436.1,215.6 436.4,215.6 436.7,216.7 437,216.3 437.3,217 437.6,216.3 437.9,215.1 438.2,215.5 438.5,216.2 438.8,215.5 439.1,214.2 439.4,215.9 439.7,215.7 440,212.6 440.3,215 440.6,213.9 440.9,216 441.2,213.3 441.5,212.7 441.8,213.9 442.1,216.4 442.4,211.5 442.7,211.3 443,213.8 443.3,215 443.6,212.8 443.9,212.2 444.2,214.2 444.5,213.5 444.8,209.5 445.1,213.7 445.4,209.7 445.7,210.1 446,212.7 446.3,210.3 446.6,212.1 446.9,208.4 447.2,212 447.5,208 447.8,207.7 448.1,213.2 448.4,208.1 448.7,208.8 449,210.4 449.3,209 449.6,204.9 449.9,206.2 450.2,207.1 450.5,206.4 450.8,207.3 451.1,205.7 451.4,203.2 451.7,203.7 452,206.6 452.3,203.6 452.6,205.5 452.9,203.7 453.2,204.2 453.5,204.2 453.8,203.5 454.1,201.6 454.4,204.6 454.7,201.9 455,201.4 455.3,200.4 455.6,203.2 455.9,202.4 456.2,201.6 456.5,201 456.8,199.6 457.1,203.3 457.4,201.4 457.7,203.3 458,200.8 458.3,200.8 458.6,201.4 458.9,205.3 459.2,202.1 459.5,206.3 459.8,203.7 460.1,205 460.4,204.1 460.7,205.8 461,203.2 461.3,204.8 461.6,207.3 461.9,202.9 462.2,205.2 462.5,199.8 462.8,202.7 463.1,200.9 463.4,200.5 463.7,205.2 464,204.3 464.3,204.1 464.6,204.2 464.9,205 465.2,200.8 465.5,203.1 465.8,202.7 466.1,203.2 466.4,205.2 466.7,204.3 467,205.5 467.3,200.9 467.6,203.9 467.9,204.1 468.2,204.5 468.5,203.8 468.8,204.8 469.1,201.8 469.4,205 469.7,202 470,202.9 470.3,204.3 470.6,203.1 470.9,200.8 471.2,200.2 471.5,200.6 471.8,202 472.1,203.9 472.4,203.2 472.7,200.3 473,200.2 473.3,202.4 473.6,203.2 473.9,197.8 474.2,198.6 474.5,199.8 474.8,201.9 475.1,202.9 475.4,202.7 475.7,201.5 476,204.9 476.3,203.3 476.6,201 476.9,200.7 477.2,202 477.5,206.1 477.8,205.9 478.1,204.4 478.4,203 478.7,201.9 479,203 479.3,202.9 479.6,206.8 479.9,206.8 480.2,206.3 480.5,203 480.8,203.7 481.1,204.1 481.4,207.8 481.7,203.7 482,207.2 482.3,206.7 482.6,206.2 482.9,208.4 483.2,204.6 483.5,205.8 483.8,203.7 484.1,203.3 484.4,202.8 484.7,204.2 485,203 485.3,202.6 485.6,207.5 485.9,203.6 486.2,206.7 486.5,205.6 486.8,205.6 487.1,205.1 487.4,206.5 487.7,206 488,205 488.3,204 488.6,204.6 488.9,204.7 489.2,203.6 489.5,203.3 489.8,201.5 490.1,205.2 490.4,203.3 490.7,198 491,201.6 491.3,205.5 491.6,202.2 491.9,202.9 492.2,204.5 492.5,205.5 492.8,202.6 493.1,203 493.4,203.2 493.7,201.1 494,205.7 494.3,201.1 494.6,206.2 494.9,201.9 495.2,201.9 495.5,205.7 495.8,205.6 496.1,202.4 496.4,204.2 496.7,203.8 497,205.2 497.3,202.4 497.6,205.9 497.9,206.9 498.2,205.3 498.5,206.6 498.8,206.7 499.1,203.7 499.4,206.3 499.7,206.3 500,205 500.3,202.5 500.6,205.3 500.9,206.9 501.2,203.7 501.5,205.6 501.8,207 502.1,205.4 502.4,202.4 502.7,205.7 503,203.7 503.3,207 503.6,206 503.9,204.1 504.2,209.9 504.5,205.9 504.8,204.4 505.1,207.1 505.4,207.4 505.7,207.5 506,207.5 506.3,206.3 506.6,206.5 506.9,206.1 507.2,205.7 507.5,205 507.8,204.8 508.1,203.4 508.4,206.8 508.7,205.7 509,205.9 509.3,206.1 509.6,204.2 509.9,203.9 510.2,203.2 510.5,207 510.8,207.6 511.1,206.4 511.4,203.3 511.7,207.9 512,207 512.3,205.3 512.6,205.3 512.9,207 513.2,205.8 513.5,205.7 513.8,202.4 514.1,206.3 514.4,202.5 514.7,204.8 515,203 515.3,204 515.6,206.8 515.9,205.9 516.2,206.2 516.5,203.3 516.8,203.7 517.1,204.8 517.4,201.6 517.7,203.5 518,210.4 518.3,205.2 518.6,205.7 518.9,202.5 519.2,204.5 519.5,205 519.8,204.4 520.1,202.9 520.4,201.4 520.7,200.5 521,205.1 521.3,205.3 521.6,201.6 521.9,204.2 522.2,202.2 522.5,203.3 522.8,204.4 523.1,201.5 523.4,203 523.7,201 524,202.3 524.3,199.6 524.6,200.8 524.9,200.9 525.2,204.2 525.5,199.9 525.8,203.2 526.1,199.5 526.4,204.3 526.7,199.8 527,199.4 527.3,200 527.6,203.9 527.9,199.7 528.2,203.6 528.5,201.5 528.8,199.4 529.1,197.4 529.4,201.1 529.7,204 530,199.5 530.3,199.9 530.6,203.1 530.9,199.1 531.2,203.7 531.5,200.1 531.8,201.5 532.1,202 532.4,203.3 532.7,198.8 533,202.9 533.3,199.3 533.6,202.1 533.9,198.4 534.2,202.3 534.5,199.3 534.8,199.5 535.1,198.6 535.4,200.2 535.7,200.3 536,204 536.3,202 536.6,197.3 536.9,204.2 537.2,199.9 537.5,200.2 537.8,204.2 538.1,204.3 538.4,202.9 538.7,204.6 539,199.7 539.3,204.3 539.6,203.3 539.9,199.3 540.2,204.2 540.5,200.3 540.8,200.8 541.1,200.4 541.4,202.2 541.7,202.4 542,202.3 542.3,201.2 542.6,206.6 542.9,203.6 543.2,203.1 543.5,202.3 543.8,199.6 544.1,199.9 544.4,199.9 544.7,201.6 545,199.4 545.3,201.6 545.6,200 545.9,200.1 546.2,201.9 546.5,203.1 546.8,198.9 547.1,199.7 547.4,203.1 547.7,198.8 548,197.8 548.3,201.4 548.6,201.9 548.9,204.8 549.2,202.4 549.5,200 549.8,197.4 550.1,198.8 550.4,201.1 550.7,199.5 551,198.4 551.3,199.9 551.6,200.6 551.9,200.2 552.2,200.9 552.5,199.4 552.8,199.1 553.1,203.4 553.4,203.3 553.7,201.8 554,200.4 554.3,201.6 554.6,207.2 554.9,205.3 555.2,203.2 555.5,205.9 555.8,203.6 556.1,201.7 556.4,204.1 556.7,204.1 557,204.2 557.3,204.9 557.6,201.1 557.9,203.4 558.2,205.4 558.5,201.9 558.8,201.4 559.1,202.3 559.4,202.9 559.7,203.7 560,203.1 560.3,204.9 560.6,202.4 560.9,206.2 561.2,205.3 561.5,204.6 561.8,206.9 562.1,206.8 562.4,203.2 562.7,203.7 563,204.8 563.3,204.9 563.6,207.4 563.9,206.7 564.2,203.2 564.5,204.7 564.8,202.9 565.1,207.2 565.4,205.8 565.7,212 566,203.7 566.3,206.9 566.6,206.5 566.9,203.7 567.2,208 567.5,208.5 567.8,204.3 568.1,209.2 568.4,208.5 568.7,207.7 569,207.5 569.3,206.2 569.6,205.2 569.9,207.5 570.2,209.7 570.5,206.2 570.8,207.7 571.1,206.7 571.4,208.9 571.7,210.4 572,210.1 572.3,206.9 572.6,207.7 572.9,205.5 573.2,208.4 573.5,210.2 573.8,210.2 574.1,206 574.4,208 574.7,210 575,207.9 575.3,207.5 575.6,207 575.9,210 576.2,210.5 576.5,209.7 576.8,206.3 577.1,210.1 577.4,210.1 577.7,210.4 578,205 578.3,204.9 578.6,206.4 578.9,207.6 579.2,207 579.5,207.9 579.8,208.1 580.1,208.2 580.4,207.9 580.7,207.2 581,207.4 581.3,208.1 581.6,204.6 581.9,206.6 582.2,204.9 582.5,204.7 582.8,208.2 583.1,205.7 583.4,205.8 583.7,205.5 584,207.1 584.3,207.6 584.6,207.4 584.9,204.3 585.2,206.3 585.5,201 585.8,208 586.1,206.8 586.4,206.2 586.7,205.5 587,205.8 587.3,207.9 587.6,206.7 587.9,206.7 588.2,205.1 588.5,207.2 588.8,204.7 589.1,206.4 589.4,207.3 589.7,206.7 590,206.9 590.3,206.8 590.6,204.8 590.9,208.9 591.2,211.3 591.5,207.6 591.8,208.8 592.1,206.1 592.4,205.4 592.7,205.2 593,208.9 593.3,205.2 593.6,205.3 593.9,204.7 594.2,206.1 594.5,205.1 594.8,205.5 595.1,207 595.4,205.1 595.7,208.1 596,207.7 596.3,205.1 596.6,207.9 596.9,204.3 597.2,203.8 597.5,212 597.8,203.5 598.1,203.3 598.4,207.9 598.7,203.2 599,206.7 599.3,206.2 599.6,204.4 599.9,204.5 600.2,208.4 600.5,208.6 600.8,204.5 601.1,205.6 601.4,207.2 601.7,204.8 602,203.7 602.3,210.9 602.6,203.7 602.9,203.5 603.2,200.5 603.5,208.6 603.8,205.5 604.1,207.2 604.4,202.4 604.7,208.5 605,205.1 605.3,205.1 605.6,206.9 605.9,203.2 606.2,205.2 606.5,207.3 606.8,206.3 607.1,205.8 607.4,208.3 607.7,205.5 608,207.1 608.3,205.3 608.6,203.7 608.9,205.3 609.2,204.3 609.5,203.3 609.8,204.7 610.1,206.9 610.4,205.7 610.7,207.2 611,207.3 611.3,208 611.6,204.9 611.9,206.8 612.2,208 612.5,205.3 612.8,208.1 613.1,203.8 613.4,208.2 613.7,208 614,208.5 614.3,207.7 614.6,207 614.9,205.5 615.2,207.1 615.5,207.9 615.8,206.3 616.1,206.5 616.4,208.1 616.7,204.7 617,204.9 617.3,203.3 617.6,207.8 617.9,206.5 618.2,204 618.5,204.4 618.8,204.1 619.1,205.6 619.4,207.8 619.7,204.9 620,205.3 620.3,205.3 620.6,207.6 620.9,203.7 621.2,207.6 621.5,203 621.8,206.7 622.1,207.1 622.4,209.2 622.7,206.9 623,204.4 623.3,203.7 623.6,204.9 623.9,204.4 624.2,206.8 624.5,206 624.8,206.5 625.1,208.2 625.4,207.2 625.7,207.3 626,208.2 626.3,208 626.6,207 626.9,207.5 627.2,205.8 627.5,207.1 627.8,207.3 628.1,205.2 628.4,207.1 628.7,206.7 629,204.5 629.3,206.5 629.6,204.1 629.9,206.6 630.2,204.1 630.5,203.3 630.8,208.3 631.1,207.9 631.4,204.9 631.7,203.5 632,207.8 632.3,207.6 632.6,204.3 632.9,208 633.2,208.1 633.5,206.8 633.8,205.2 634.1,204.1 634.4,204.2 634.7,206.3 635,207.9 635.3,207.5 635.6,205.3 635.9,208.4 636.2,204.5 636.5,207.6 636.8,205.3 637.1,204.4 637.4,205.5 637.7,208.8 638,205.7 638.3,204.7 638.6,207.3 638.9,206.6 639.2,207.9 639.5,208 639.8,208.8 640.1,210 640.4,207 640.7,208.7 641,206 641.3,210.1 641.6,206 641.9,206.4 642.2,207.5 642.5,209.6 642.8,210.6 643.1,208 643.4,207.2 643.7,207.5 644,208.9 644.3,208.4 644.6,206.8 644.9,211.1 645.2,210 645.5,211.4 645.8,211.3 646.1,210.8 646.4,211.4 646.7,210.8 647,209.4 647.3,211.6 647.6,212.2 647.9,207.9 648.2,208.1 648.5,208.3 648.8,209.9 649.1,212.1 649.4,210.3 649.7,212.1 650,209.6 650.3,210.7 650.6,209 650.9,211.2 651.2,209.2 651.5,207.8 651.8,210 652.1,210.9 652.4,212.7 652.7,209.5 653,213 653.3,212.4 653.6,208.9 653.9,212.3 654.2,213.2 654.5,213.4 654.8,212 655.1,210.4 655.4,211.2 655.7,211.9 656,211.7 656.3,209.4 656.6,213.2 656.9,211.4 657.2,208.9 657.5,210.2 657.8,209 658.1,211.1 658.4,209.2 658.7,211.6 659,210.3 659.3,213.3 659.6,213 659.9,209.9 660.2,213.3 660.5,212.1 660.8,207 661.1,213.9 661.4,209.1 661.7,211.3 662,212.4 662.3,210.1 662.6,211.9 662.9,214 663.2,211.1 663.5,213.2 663.8,210.4 664.1,214.7 664.4,214.7 664.7,210.5 665,213.8 665.3,211.5 665.6,209.9 665.9,211 666.2,213.8 666.5,212.4 666.8,212.9 667.1,210.7 667.4,211 667.7,212.1 668,213 668.3,214.7 668.6,212.8 668.9,212.2 669.2,215.4 669.5,214.3 669.8,214.7 670.1,215 670.4,213.3 670.7,212.2 671,211.4 671.3,214.4 671.6,215 671.9,215.8 672.2,212.1 672.5,213.7 672.8,213.6 673.1,216.2 673.4,211.5 673.7,213.1 674,214 674.3,214.4 674.6,211.7 674.9,212 675.2,213.9 675.5,212.1 675.8,213.3 676.1,212.2 676.4,213 676.7,214.7 677,213.5 677.3,212.2 677.6,213.9 677.9,215 678.2,213 678.5,216.6 678.8,213.8 679.1,215.2 679.4,211.7 679.7,215.1" stroke="#55a5a7" stroke-width="1.25"/>
</g>
<g font-size="10.25" font-weight="bold">
<text x="554.4" y="45.9" fill="#686868">ZVCo-MIL-88A(Fe)@β-CD</text>
<text x="650.7" y="80.4" fill="#c0c000">ZVCo</text>
<text x="652" y="164.9" fill="#dc464c">β-CD</text>
<text x="618.3" y="200.3" fill="#4a9a9e">MIL-88A(Fe)</text>
</g>
<g fill="none" stroke="#4a4a4a" stroke-width="1.05">
<path d="M75.1,307.1 C79,307.6 90.1,308.4 98.8,310.1 C107.5,311.8 122.5,316.2 127.3,317.4"/>
<path d="M138.2,321.8 C141.5,323.6 152.1,328.9 157.9,332.7 C163.7,336.5 167.9,340.1 173.2,344.7 C178.5,349.3 186.9,357.9 189.7,360.5"/>
<path d="M198.4,371 C200,373 204.5,378.5 208,383 C211.5,387.5 216.7,393.8 219.5,398 C222.3,402.2 222.5,404.2 225,408 C227.5,411.8 231.4,416.9 234.6,420.9 C237.8,424.9 241.4,428.6 244.3,432.1 C247.2,435.6 250.7,440.4 252,442.1"/>
<path d="M261.2,450.1 C263.3,451.5 269.5,456.1 273.6,458.3 C277.7,460.5 281.9,462 286,463.3 C290.1,464.6 293.8,465.4 298.4,466 C302.9,466.6 310.8,466.8 313.3,467"/>
</g>
<ellipse cx="219.5" cy="398" rx="11.3" ry="10.6" fill="#cfcfcf" fill-opacity="0.85" stroke="#444" stroke-width="0.9"/>
<path d="M212,388 C213.2,389.7 217.3,395 219.5,398 C221.7,401 224.1,404.7 225,406" stroke="#555" fill="none" stroke-width="1"/>
<g fill="#2a2a2a">
<polygon points="69.1,301.9 70.3,305.2 73.9,305.4 71,307.5 72,310.9 69.1,308.9 66.2,310.9 67.2,307.5 64.3,305.4 67.9,305.2"/>
<polygon points="131.8,314.6 133,317.9 136.6,318.1 133.7,320.2 134.7,323.6 131.8,321.7 128.9,323.6 129.9,320.2 127,318.1 130.6,317.9"/>
<polygon points="194.2,360.9 195.4,364.2 199,364.4 196.1,366.5 197.1,369.9 194.2,367.9 191.3,369.9 192.3,366.5 189.4,364.4 193,364.2"/>
<polygon points="256.8,441.3 258,444.6 261.6,444.8 258.7,446.9 259.7,450.3 256.8,448.4 253.9,450.3 254.9,446.9 252,444.8 255.6,444.6"/>
<polygon points="319.4,462.4 320.6,465.7 324.2,465.9 321.3,468 322.3,471.4 319.4,469.4 316.5,471.4 317.5,468 314.6,465.9 318.2,465.7"/>
</g>
<text x="214.1" y="383.7" font-size="12.8" fill="#222">pHpzc = 7.75</text>
<g fill="none" stroke-width="1.2" stroke-linejoin="round">
<polyline points="416.2,433.7 431.9,433.4 448.4,432.3 462.8,431.3 473.3,430.8 485,429.9 499.6,428.4 514.1,426.2 521.4,424 527.2,420.4 530.1,416 531.6,411.7 532.3,405.8 533,395 533.8,380 534.9,370.4 536.2,365.9 539.4,362.7 545.8,359.6 553.4,357.6 561,355.7 569.1,355.8 582.3,354.5 590,354.1 601.8,353.2 615.6,352.3 627.4,351.5 640,351 653.1,351" stroke="#666"/>
<polyline points="416.2,475 431.9,474.4 448.4,472.8 463.5,470.7 473.3,469.4 479.9,468.5 485,467.7 492.3,465.5 499.6,464.1 506.8,462.3 514.1,460 520,456.8 524.3,453.2 527.2,448.8 529.4,443 530.4,436.4 531.3,429.1 531.9,423.3 532.5,416.7 533.1,408.7 533.5,400 534,390 534.5,375 534.9,360.2 535.6,350 536.9,338.8 538.9,334.2 541.5,330.2 545.5,326.9 550.7,324.3 556,323 562.6,321.3 569.1,320 575.7,318.8 582.3,317.7 588.8,316.4 601.8,314.5 615.6,312.7 627.4,311.4 640,310.2 653.1,310.1" stroke="#d2d200" stroke-width="1.4"/>
</g>
<g fill="none" stroke-width="0.9">
<circle cx="416.2" cy="433.7" r="1.35" stroke="#6a6a6a"/>
<circle cx="419.5" cy="433.6" r="1.35" stroke="#6a6a6a"/>
<circle cx="431.9" cy="433.4" r="1.35" stroke="#6a6a6a"/>
<circle cx="435.2" cy="433.2" r="1.35" stroke="#6a6a6a"/>
<circle cx="448.4" cy="432.3" r="1.35" stroke="#6a6a6a"/>
<circle cx="450.3" cy="432.2" r="1.35" stroke="#6a6a6a"/>
<circle cx="462.8" cy="431.3" r="1.35" stroke="#6a6a6a"/>
<circle cx="466.1" cy="431.1" r="1.35" stroke="#6a6a6a"/>
<circle cx="593.3" cy="353.8" r="1.35" stroke="#6a6a6a"/>
<circle cx="601.8" cy="353.2" r="1.35" stroke="#6a6a6a"/>
<circle cx="615.6" cy="352.3" r="1.35" stroke="#6a6a6a"/>
<circle cx="627.4" cy="351.5" r="1.35" stroke="#6a6a6a"/>
<circle cx="632.0" cy="351.3" r="1.35" stroke="#6a6a6a"/>
<circle cx="640.0" cy="351.0" r="1.35" stroke="#6a6a6a"/>
<circle cx="647.2" cy="351.0" r="1.35" stroke="#6a6a6a"/>
<circle cx="653.1" cy="351.0" r="1.35" stroke="#6a6a6a"/>
<circle cx="470.2" cy="430.9" r="1.35" stroke="#6a6a6a"/>
<circle cx="475.6" cy="430.6" r="1.35" stroke="#6a6a6a"/>
<circle cx="480.9" cy="430.2" r="1.35" stroke="#6a6a6a"/>
<circle cx="486.5" cy="429.8" r="1.35" stroke="#6a6a6a"/>
<circle cx="491.6" cy="429.2" r="1.35" stroke="#6a6a6a"/>
<circle cx="496.7" cy="428.7" r="1.35" stroke="#6a6a6a"/>
<circle cx="501.8" cy="428.1" r="1.35" stroke="#6a6a6a"/>
<circle cx="506.9" cy="427.3" r="1.35" stroke="#6a6a6a"/>
<circle cx="511.9" cy="426.5" r="1.35" stroke="#6a6a6a"/>
<circle cx="517.0" cy="425.3" r="1.35" stroke="#6a6a6a"/>
<circle cx="522.0" cy="423.6" r="1.35" stroke="#6a6a6a"/>
<circle cx="526.3" cy="420.9" r="1.35" stroke="#6a6a6a"/>
<circle cx="529.5" cy="416.9" r="1.35" stroke="#6a6a6a"/>
<circle cx="531.5" cy="412.1" r="1.35" stroke="#6a6a6a"/>
<circle cx="532.2" cy="407.0" r="1.35" stroke="#6a6a6a"/>
<circle cx="532.6" cy="401.5" r="1.35" stroke="#6a6a6a"/>
<circle cx="532.9" cy="396.1" r="1.35" stroke="#6a6a6a"/>
<circle cx="533.2" cy="390.5" r="1.35" stroke="#6a6a6a"/>
<circle cx="533.5" cy="385.2" r="1.35" stroke="#6a6a6a"/>
<circle cx="533.8" cy="380.0" r="1.35" stroke="#6a6a6a"/>
<circle cx="534.4" cy="374.7" r="1.35" stroke="#6a6a6a"/>
<circle cx="535.1" cy="369.7" r="1.35" stroke="#6a6a6a"/>
<circle cx="537.0" cy="365.1" r="1.35" stroke="#6a6a6a"/>
<circle cx="541.0" cy="361.9" r="1.35" stroke="#6a6a6a"/>
<circle cx="545.8" cy="359.6" r="1.35" stroke="#6a6a6a"/>
<circle cx="550.7" cy="358.3" r="1.35" stroke="#6a6a6a"/>
<circle cx="555.7" cy="357.0" r="1.35" stroke="#6a6a6a"/>
<circle cx="560.6" cy="355.8" r="1.35" stroke="#6a6a6a"/>
<circle cx="565.9" cy="355.8" r="1.35" stroke="#6a6a6a"/>
<circle cx="571.1" cy="355.6" r="1.35" stroke="#6a6a6a"/>
<circle cx="576.4" cy="355.1" r="1.35" stroke="#6a6a6a"/>
<circle cx="581.6" cy="354.6" r="1.35" stroke="#6a6a6a"/>
<circle cx="586.9" cy="354.3" r="1.35" stroke="#6a6a6a"/>
<circle cx="416.2" cy="475.0" r="1.35" stroke="#cccc00"/>
<circle cx="419.5" cy="474.9" r="1.35" stroke="#cccc00"/>
<circle cx="431.9" cy="474.4" r="1.35" stroke="#cccc00"/>
<circle cx="435.2" cy="474.1" r="1.35" stroke="#cccc00"/>
<circle cx="448.4" cy="472.8" r="1.35" stroke="#cccc00"/>
<circle cx="450.3" cy="472.5" r="1.35" stroke="#cccc00"/>
<circle cx="462.8" cy="470.8" r="1.35" stroke="#cccc00"/>
<circle cx="466.1" cy="470.4" r="1.35" stroke="#cccc00"/>
<circle cx="593.3" cy="315.7" r="1.35" stroke="#cccc00"/>
<circle cx="601.8" cy="314.5" r="1.35" stroke="#cccc00"/>
<circle cx="615.6" cy="312.7" r="1.35" stroke="#cccc00"/>
<circle cx="627.4" cy="311.4" r="1.35" stroke="#cccc00"/>
<circle cx="632.0" cy="311.0" r="1.35" stroke="#cccc00"/>
<circle cx="640.0" cy="310.2" r="1.35" stroke="#cccc00"/>
<circle cx="647.2" cy="310.1" r="1.35" stroke="#cccc00"/>
<circle cx="653.1" cy="310.1" r="1.35" stroke="#cccc00"/>
<circle cx="470.4" cy="469.8" r="1.35" stroke="#cccc00"/>
<circle cx="475.6" cy="469.1" r="1.35" stroke="#cccc00"/>
<circle cx="480.7" cy="468.4" r="1.35" stroke="#cccc00"/>
<circle cx="485.7" cy="467.5" r="1.35" stroke="#cccc00"/>
<circle cx="490.8" cy="465.9" r="1.35" stroke="#cccc00"/>
<circle cx="496.0" cy="464.8" r="1.35" stroke="#cccc00"/>
<circle cx="501.0" cy="463.7" r="1.35" stroke="#cccc00"/>
<circle cx="506.1" cy="462.5" r="1.35" stroke="#cccc00"/>
<circle cx="511.2" cy="460.9" r="1.35" stroke="#cccc00"/>
<circle cx="515.9" cy="459.0" r="1.35" stroke="#cccc00"/>
<circle cx="520.4" cy="456.4" r="1.35" stroke="#cccc00"/>
<circle cx="524.3" cy="453.2" r="1.35" stroke="#cccc00"/>
<circle cx="527.1" cy="449.0" r="1.35" stroke="#cccc00"/>
<circle cx="529.0" cy="444.2" r="1.35" stroke="#cccc00"/>
<circle cx="530.0" cy="439.0" r="1.35" stroke="#cccc00"/>
<circle cx="530.7" cy="433.8" r="1.35" stroke="#cccc00"/>
<circle cx="531.3" cy="428.8" r="1.35" stroke="#cccc00"/>
<circle cx="531.9" cy="423.6" r="1.35" stroke="#cccc00"/>
<circle cx="532.4" cy="418.4" r="1.35" stroke="#cccc00"/>
<circle cx="532.8" cy="413.1" r="1.35" stroke="#cccc00"/>
<circle cx="533.1" cy="407.8" r="1.35" stroke="#cccc00"/>
<circle cx="533.4" cy="402.6" r="1.35" stroke="#cccc00"/>
<circle cx="533.6" cy="397.5" r="1.35" stroke="#cccc00"/>
<circle cx="533.9" cy="392.5" r="1.35" stroke="#cccc00"/>
<circle cx="534.1" cy="387.0" r="1.35" stroke="#cccc00"/>
<circle cx="534.3" cy="381.8" r="1.35" stroke="#cccc00"/>
<circle cx="534.5" cy="376.5" r="1.35" stroke="#cccc00"/>
<circle cx="534.6" cy="371.3" r="1.35" stroke="#cccc00"/>
<circle cx="534.7" cy="366.1" r="1.35" stroke="#cccc00"/>
<circle cx="534.9" cy="360.9" r="1.35" stroke="#cccc00"/>
<circle cx="535.2" cy="355.6" r="1.35" stroke="#cccc00"/>
<circle cx="535.6" cy="350.5" r="1.35" stroke="#cccc00"/>
<circle cx="536.1" cy="345.5" r="1.35" stroke="#cccc00"/>
<circle cx="536.7" cy="340.5" r="1.35" stroke="#cccc00"/>
<circle cx="538.3" cy="335.6" r="1.35" stroke="#cccc00"/>
<circle cx="540.9" cy="331.2" r="1.35" stroke="#cccc00"/>
<circle cx="544.5" cy="327.7" r="1.35" stroke="#cccc00"/>
<circle cx="548.9" cy="325.2" r="1.35" stroke="#cccc00"/>
<circle cx="553.6" cy="323.6" r="1.35" stroke="#cccc00"/>
<circle cx="558.6" cy="322.3" r="1.35" stroke="#cccc00"/>
<circle cx="563.6" cy="321.1" r="1.35" stroke="#cccc00"/>
<circle cx="568.8" cy="320.1" r="1.35" stroke="#cccc00"/>
<circle cx="573.7" cy="319.2" r="1.35" stroke="#cccc00"/>
<circle cx="578.7" cy="318.3" r="1.35" stroke="#cccc00"/>
<circle cx="583.6" cy="317.4" r="1.35" stroke="#cccc00"/>
<circle cx="588.8" cy="316.4" r="1.35" stroke="#cccc00"/>
</g>
<ellipse cx="533.7" cy="390.5" rx="5" ry="21.5" fill="#d8d8d8" fill-opacity="0.45" stroke="#444" stroke-width="0.8"/>
<text x="480.2" y="394.6" font-size="12" fill="#222">Hc&lt;20 G</text>
<g font-size="10.25" font-weight="bold">
<text x="635.3" y="323" fill="#c0c000">ZVCo</text>
<text x="547" y="375.3" fill="#505050">ZVCo-MIL-88A(Fe)@β-CD</text>
</g>
</svg></body></html>
